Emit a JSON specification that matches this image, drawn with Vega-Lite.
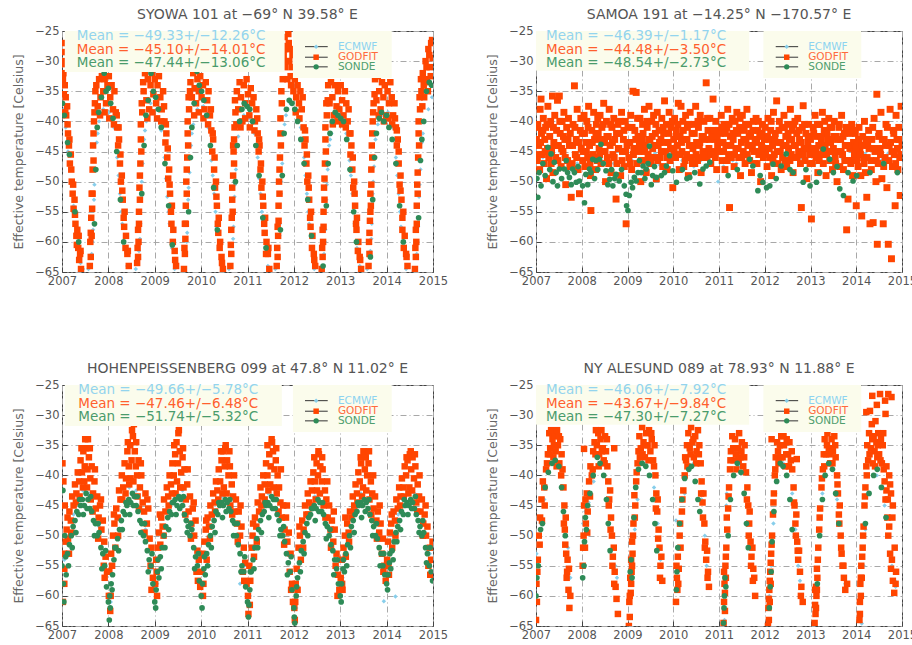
{"$schema":"https://vega.github.io/schema/vega-lite/v6.json","background":"white","padding":{"left":12,"top":7,"right":0,"bottom":0},
"config":{"font":"DejaVu Sans","view":{"stroke":"#444","strokeWidth":1},"title":{"font":"DejaVu Sans","fontSize":14,"fontWeight":"normal","color":"#555","offset":3},"text":{"font":"DejaVu Sans","align":"left","baseline":"middle"},"rect":{"color":"#FBFCEC"},"rule":{"color":"#333","strokeWidth":1},
"axisX":{"values":[2007,2008,2009,2010,2011,2012,2013,2014,2015],"format":"d","title":null,"grid":true,"gridColor":"#a8a8a8","gridDash":[6,3,1,3],"domain":false,"tickSize":-5,"tickColor":"#444","labelPadding":8,"labelColor":"#555","labelFont":"DejaVu Sans","labelFontSize":11.5,"labelOverlap":false,"labelFlush":false},
"axisY":{"values":[-65,-60,-55,-50,-45,-40,-35,-30,-25],"format":"d","titleColor":"#666","titleFont":"DejaVu Sans","titleFontSize":12.5,"titleFontWeight":"normal","titlePadding":9,"grid":true,"gridColor":"#a8a8a8","gridDash":[6,3,1,3],"domain":false,"tickSize":-5,"tickColor":"#444","labelPadding":8,"labelColor":"#555","labelFont":"DejaVu Sans","labelFontSize":11.5,"labelOverlap":false,"labelFlush":false}},
"datasets":{
"p1e":[{"t":2007.00,"v":-36},{"t":2007.04,"v":-38},{"t":2007.08,"v":-41},{"t":2007.13,"v":-45},{"t":2007.19,"v":-50},{"t":2007.25,"v":-54},{"t":2007.30,"v":-57},{"t":2007.35,"v":-61},{"t":2007.40,"v":-63.5},{"t":2007.45,"v":-64.5},
{"t":2007.57,"v":-64.5},{"t":2007.64,"v":-62},{"t":2007.66,"v":-60},{"t":2007.67,"v":-58},{"t":2007.69,"v":-53},{"t":2007.70,"v":-50.5},{"t":2007.72,"v":-48},{"t":2007.75,"v":-43.5},{"t":2007.77,"v":-42},{"t":2007.80,"v":-40},{"t":2007.89,"v":-38},{"t":2008.02,"v":-38.5},{"t":2008.12,"v":-41},{"t":2008.19,"v":-46},{"t":2008.22,"v":-49},{"t":2008.25,"v":-52},{"t":2008.28,"v":-55},{"t":2008.30,"v":-57},{"t":2008.35,"v":-61},{"t":2008.41,"v":-64},
{"t":2008.59,"v":-64.5},{"t":2008.66,"v":-61.5},{"t":2008.68,"v":-59.5},{"t":2008.69,"v":-57},{"t":2008.71,"v":-52},{"t":2008.72,"v":-50},{"t":2008.74,"v":-47},{"t":2008.77,"v":-43},{"t":2008.79,"v":-41.5},{"t":2008.82,"v":-40},{"t":2008.91,"v":-37},{"t":2009.04,"v":-38},{"t":2009.14,"v":-41.5},{"t":2009.21,"v":-46},{"t":2009.24,"v":-49.5},{"t":2009.27,"v":-52.5},{"t":2009.30,"v":-55},{"t":2009.32,"v":-57},{"t":2009.37,"v":-61},{"t":2009.43,"v":-64.5},
{"t":2009.60,"v":-65},{"t":2009.67,"v":-62},{"t":2009.69,"v":-60},{"t":2009.70,"v":-58.5},{"t":2009.72,"v":-53},{"t":2009.73,"v":-51},{"t":2009.75,"v":-48.5},{"t":2009.78,"v":-44},{"t":2009.80,"v":-42},{"t":2009.83,"v":-40.5},{"t":2009.92,"v":-38},{"t":2010.05,"v":-37.5},{"t":2010.15,"v":-41},{"t":2010.22,"v":-46.5},{"t":2010.25,"v":-49},{"t":2010.28,"v":-52},{"t":2010.31,"v":-55},{"t":2010.33,"v":-57.5},{"t":2010.38,"v":-61},{"t":2010.44,"v":-64},
{"t":2010.60,"v":-64.5},{"t":2010.67,"v":-62},{"t":2010.69,"v":-59.5},{"t":2010.70,"v":-57.5},{"t":2010.72,"v":-52.5},{"t":2010.73,"v":-50.5},{"t":2010.75,"v":-48},{"t":2010.78,"v":-44},{"t":2010.80,"v":-42.5},{"t":2010.83,"v":-41},{"t":2010.92,"v":-39},{"t":2011.05,"v":-39.5},{"t":2011.15,"v":-42},{"t":2011.22,"v":-46},{"t":2011.25,"v":-49.5},{"t":2011.28,"v":-52},{"t":2011.31,"v":-55},{"t":2011.33,"v":-56.5},{"t":2011.38,"v":-61},{"t":2011.44,"v":-64},
{"t":2011.60,"v":-64.5},{"t":2011.67,"v":-61},{"t":2011.69,"v":-59},{"t":2011.70,"v":-57},{"t":2011.72,"v":-52},{"t":2011.73,"v":-50},{"t":2011.75,"v":-47},{"t":2011.78,"v":-42},{"t":2011.80,"v":-40.5},{"t":2011.83,"v":-39},{"t":2011.92,"v":-37},{"t":2012.05,"v":-38},{"t":2012.15,"v":-41},{"t":2012.22,"v":-46},{"t":2012.25,"v":-49},{"t":2012.28,"v":-52},{"t":2012.31,"v":-55},{"t":2012.33,"v":-57},{"t":2012.38,"v":-61},{"t":2012.44,"v":-64.5},
{"t":2012.58,"v":-65},{"t":2012.65,"v":-62},{"t":2012.67,"v":-60},{"t":2012.68,"v":-58},{"t":2012.70,"v":-53},{"t":2012.71,"v":-50.5},{"t":2012.73,"v":-48},{"t":2012.76,"v":-44},{"t":2012.78,"v":-43},{"t":2012.81,"v":-42},{"t":2012.90,"v":-40},{"t":2013.03,"v":-40.5},{"t":2013.13,"v":-42},{"t":2013.20,"v":-46.5},{"t":2013.23,"v":-49},{"t":2013.26,"v":-52},{"t":2013.29,"v":-55},{"t":2013.31,"v":-57},{"t":2013.36,"v":-61},{"t":2013.42,"v":-64},
{"t":2013.58,"v":-64.5},{"t":2013.65,"v":-61.5},{"t":2013.67,"v":-59.5},{"t":2013.68,"v":-57},{"t":2013.70,"v":-52},{"t":2013.71,"v":-50},{"t":2013.73,"v":-47.5},{"t":2013.76,"v":-43},{"t":2013.78,"v":-42},{"t":2013.81,"v":-40.5},{"t":2013.90,"v":-39},{"t":2014.03,"v":-38.5},{"t":2014.13,"v":-41},{"t":2014.20,"v":-46},{"t":2014.23,"v":-49},{"t":2014.26,"v":-52},{"t":2014.29,"v":-55},{"t":2014.31,"v":-57.5},{"t":2014.36,"v":-61},{"t":2014.42,"v":-64.5},
{"t":2014.58,"v":-65},{"t":2014.65,"v":-62},{"t":2014.67,"v":-60},{"t":2014.68,"v":-57.5},{"t":2014.70,"v":-52.5},{"t":2014.71,"v":-50.5},{"t":2014.73,"v":-48},{"t":2014.76,"v":-43.5},{"t":2014.78,"v":-42},{"t":2014.81,"v":-40},{"t":2014.90,"v":-38},{"t":2014.98,"v":-36}],
"p1g":[{"t":2007.00,"v":-27},{"t":2007.01,"v":-30},{"t":2007.02,"v":-28.5},{"t":2007.03,"v":-32},{"t":2007.05,"v":-30.5},{"t":2007.06,"v":-34},{"t":2007.08,"v":-36},{"t":2007.09,"v":-39},{"t":2007.11,"v":-37.5},{"t":2007.13,"v":-42},{"t":2007.15,"v":-44},{"t":2007.17,"v":-47},{"t":2007.19,"v":-45.5},{"t":2007.21,"v":-50},{"t":2007.23,"v":-52},{"t":2007.25,"v":-54.5},{"t":2007.27,"v":-53},{"t":2007.29,"v":-57},{"t":2007.31,"v":-59},{"t":2007.33,"v":-58},{"t":2007.35,"v":-61},{"t":2007.37,"v":-63},{"t":2007.39,"v":-62},{"t":2007.41,"v":-64.5},
{"t":2007.02,"v":-33},{"t":2007.04,"v":-35.5},{"t":2007.07,"v":-38.5},{"t":2007.12,"v":-40.5},{"t":2007.16,"v":-43},{"t":2007.20,"v":-48},{"t":2007.24,"v":-50.5},{"t":2007.28,"v":-55.5},{"t":2007.32,"v":-60.5},{"t":2007.36,"v":-59},{"t":2007.40,"v":-61.5},
{"t":2007.60,"v":-64},{"t":2007.61,"v":-60},{"t":2007.62,"v":-62.5},{"t":2007.63,"v":-56},{"t":2007.64,"v":-52},{"t":2007.65,"v":-54.5},{"t":2007.66,"v":-48},{"t":2007.67,"v":-44},{"t":2007.68,"v":-46.5},{"t":2007.69,"v":-40},{"t":2007.71,"v":-37},{"t":2007.74,"v":-34},{"t":2007.77,"v":-37.5},{"t":2007.80,"v":-33},{"t":2007.83,"v":-36},{"t":2007.86,"v":-32.5},{"t":2007.89,"v":-35},{"t":2007.92,"v":-33},{"t":2007.95,"v":-37},{"t":2007.98,"v":-34},{"t":2008.01,"v":-32.5},{"t":2008.04,"v":-36},{"t":2008.07,"v":-34},{"t":2008.10,"v":-38},{"t":2008.13,"v":-35},{"t":2008.16,"v":-38.5},{"t":2008.19,"v":-41},{"t":2008.21,"v":-44},{"t":2008.23,"v":-43},{"t":2008.25,"v":-47},{"t":2008.27,"v":-50},{"t":2008.29,"v":-49},{"t":2008.31,"v":-53},{"t":2008.33,"v":-56},{"t":2008.35,"v":-55},{"t":2008.38,"v":-59},{"t":2008.41,"v":-62},{"t":2008.44,"v":-64},
{"t":2007.62,"v":-58.5},{"t":2007.64,"v":-59},{"t":2007.66,"v":-52},{"t":2007.68,"v":-42},{"t":2007.70,"v":-38.5},{"t":2007.72,"v":-35},{"t":2007.82,"v":-39},{"t":2007.92,"v":-38.5},{"t":2008.02,"v":-39.5},{"t":2008.12,"v":-40.5},{"t":2008.18,"v":-39},{"t":2008.22,"v":-41},{"t":2008.26,"v":-45.5},{"t":2008.30,"v":-51.5},{"t":2008.34,"v":-57.5},{"t":2008.37,"v":-61},{"t":2008.42,"v":-61.5},
{"t":2008.62,"v":-63.5},{"t":2008.63,"v":-61},{"t":2008.64,"v":-58},{"t":2008.65,"v":-60},{"t":2008.66,"v":-55},{"t":2008.67,"v":-51},{"t":2008.68,"v":-53},{"t":2008.69,"v":-47},{"t":2008.70,"v":-43},{"t":2008.71,"v":-45},{"t":2008.73,"v":-38.5},{"t":2008.76,"v":-35},{"t":2008.79,"v":-32},{"t":2008.82,"v":-36.5},{"t":2008.85,"v":-33},{"t":2008.88,"v":-38},{"t":2008.91,"v":-34},{"t":2008.94,"v":-32},{"t":2008.97,"v":-35.5},{"t":2009.00,"v":-33},{"t":2009.03,"v":-37},{"t":2009.06,"v":-34},{"t":2009.09,"v":-32.5},{"t":2009.12,"v":-36},{"t":2009.15,"v":-38},{"t":2009.18,"v":-35},{"t":2009.21,"v":-40},{"t":2009.23,"v":-43.5},{"t":2009.25,"v":-42},{"t":2009.27,"v":-46},{"t":2009.29,"v":-49.5},{"t":2009.31,"v":-48},{"t":2009.33,"v":-52},{"t":2009.35,"v":-55},{"t":2009.37,"v":-54},{"t":2009.40,"v":-58},{"t":2009.43,"v":-61.5},{"t":2009.46,"v":-64},
{"t":2008.64,"v":-62.5},{"t":2008.66,"v":-57},{"t":2008.68,"v":-49},{"t":2008.70,"v":-40.5},{"t":2008.72,"v":-37},{"t":2008.75,"v":-33.5},{"t":2008.84,"v":-39.5},{"t":2008.95,"v":-38.5},{"t":2009.05,"v":-39.5},{"t":2009.14,"v":-40},{"t":2009.20,"v":-37.5},{"t":2009.24,"v":-40.5},{"t":2009.28,"v":-44.5},{"t":2009.32,"v":-50.5},{"t":2009.36,"v":-57},{"t":2009.39,"v":-60},{"t":2009.44,"v":-63},
{"t":2009.63,"v":-64.5},{"t":2009.64,"v":-61},{"t":2009.65,"v":-57},{"t":2009.66,"v":-59.5},{"t":2009.67,"v":-54},{"t":2009.68,"v":-50},{"t":2009.69,"v":-52},{"t":2009.70,"v":-46},{"t":2009.71,"v":-42},{"t":2009.72,"v":-44},{"t":2009.74,"v":-38},{"t":2009.77,"v":-33.5},{"t":2009.80,"v":-36},{"t":2009.83,"v":-32},{"t":2009.86,"v":-34.5},{"t":2009.89,"v":-37},{"t":2009.92,"v":-33},{"t":2009.95,"v":-35},{"t":2009.98,"v":-32.5},{"t":2010.01,"v":-36},{"t":2010.04,"v":-34},{"t":2010.07,"v":-38},{"t":2010.10,"v":-33.5},{"t":2010.13,"v":-36.5},{"t":2010.16,"v":-35},{"t":2010.19,"v":-39},{"t":2010.22,"v":-41.5},{"t":2010.24,"v":-45},{"t":2010.26,"v":-43},{"t":2010.28,"v":-48},{"t":2010.30,"v":-51},{"t":2010.32,"v":-50},{"t":2010.34,"v":-54},{"t":2010.36,"v":-57},{"t":2010.38,"v":-56},{"t":2010.41,"v":-60},{"t":2010.44,"v":-62.5},{"t":2010.47,"v":-64.5},
{"t":2009.65,"v":-62},{"t":2009.67,"v":-57},{"t":2009.69,"v":-48},{"t":2009.71,"v":-40},{"t":2009.73,"v":-36},{"t":2009.76,"v":-35},{"t":2009.85,"v":-39},{"t":2009.95,"v":-38.5},{"t":2010.05,"v":-39.5},{"t":2010.15,"v":-40.5},{"t":2010.21,"v":-38},{"t":2010.25,"v":-42},{"t":2010.29,"v":-46},{"t":2010.33,"v":-52.5},{"t":2010.37,"v":-58.5},{"t":2010.40,"v":-61},{"t":2010.45,"v":-63.5},
{"t":2010.63,"v":-64},{"t":2010.64,"v":-60.5},{"t":2010.65,"v":-62},{"t":2010.66,"v":-56},{"t":2010.67,"v":-53},{"t":2010.68,"v":-55},{"t":2010.69,"v":-49},{"t":2010.70,"v":-45},{"t":2010.71,"v":-47},{"t":2010.72,"v":-41},{"t":2010.74,"v":-38.5},{"t":2010.77,"v":-35},{"t":2010.80,"v":-38},{"t":2010.83,"v":-33.5},{"t":2010.86,"v":-36},{"t":2010.89,"v":-40},{"t":2010.92,"v":-34},{"t":2010.95,"v":-37},{"t":2010.98,"v":-33},{"t":2011.01,"v":-35.5},{"t":2011.04,"v":-39},{"t":2011.07,"v":-34.5},{"t":2011.10,"v":-37},{"t":2011.13,"v":-36},{"t":2011.16,"v":-40},{"t":2011.19,"v":-38},{"t":2011.22,"v":-42},{"t":2011.24,"v":-45},{"t":2011.26,"v":-44},{"t":2011.28,"v":-48},{"t":2011.30,"v":-51},{"t":2011.32,"v":-50},{"t":2011.34,"v":-54},{"t":2011.36,"v":-57},{"t":2011.38,"v":-56},{"t":2011.41,"v":-60},{"t":2011.44,"v":-62},{"t":2011.47,"v":-64.5},
{"t":2010.65,"v":-58},{"t":2010.67,"v":-51},{"t":2010.69,"v":-44},{"t":2010.71,"v":-43},{"t":2010.73,"v":-36.5},{"t":2010.76,"v":-40.5},{"t":2010.85,"v":-41},{"t":2010.95,"v":-39.5},{"t":2011.05,"v":-41},{"t":2011.15,"v":-41.5},{"t":2011.21,"v":-39.5},{"t":2011.25,"v":-43},{"t":2011.29,"v":-47},{"t":2011.33,"v":-52.5},{"t":2011.37,"v":-58.5},{"t":2011.40,"v":-62},{"t":2011.45,"v":-61},
{"t":2011.63,"v":-64},{"t":2011.64,"v":-61},{"t":2011.65,"v":-57.5},{"t":2011.66,"v":-59},{"t":2011.67,"v":-54},{"t":2011.68,"v":-50},{"t":2011.69,"v":-52},{"t":2011.70,"v":-46},{"t":2011.71,"v":-42},{"t":2011.72,"v":-44},{"t":2011.74,"v":-37},{"t":2011.76,"v":-33},{"t":2011.78,"v":-29},{"t":2011.80,"v":-26},{"t":2011.82,"v":-31},{"t":2011.84,"v":-27.5},{"t":2011.86,"v":-33},{"t":2011.88,"v":-25.5},{"t":2011.90,"v":-30},{"t":2011.92,"v":-28},{"t":2011.94,"v":-34},{"t":2011.96,"v":-31},{"t":2011.99,"v":-35},{"t":2012.02,"v":-33},{"t":2012.05,"v":-36},{"t":2012.08,"v":-34},{"t":2012.11,"v":-37},{"t":2012.14,"v":-35},{"t":2012.17,"v":-38},{"t":2012.21,"v":-41},{"t":2012.23,"v":-44},{"t":2012.25,"v":-43},{"t":2012.27,"v":-47},{"t":2012.29,"v":-50},{"t":2012.31,"v":-49},{"t":2012.33,"v":-53},{"t":2012.35,"v":-56},{"t":2012.37,"v":-55},{"t":2012.40,"v":-59},{"t":2012.43,"v":-62},{"t":2012.46,"v":-64},
{"t":2011.65,"v":-62.5},{"t":2011.67,"v":-56.5},{"t":2011.69,"v":-48},{"t":2011.71,"v":-39.5},{"t":2011.73,"v":-35},{"t":2011.77,"v":-30.5},{"t":2011.81,"v":-28},{"t":2011.85,"v":-30},{"t":2011.89,"v":-27},{"t":2011.93,"v":-32.5},{"t":2011.97,"v":-29},{"t":2012.04,"v":-38.5},{"t":2012.12,"v":-39.5},{"t":2012.19,"v":-36},{"t":2012.24,"v":-41.5},{"t":2012.28,"v":-45.5},{"t":2012.32,"v":-51},{"t":2012.36,"v":-57.5},{"t":2012.39,"v":-61},{"t":2012.44,"v":-63},
{"t":2012.60,"v":-64.5},{"t":2012.61,"v":-61},{"t":2012.62,"v":-58},{"t":2012.63,"v":-60},{"t":2012.64,"v":-55},{"t":2012.65,"v":-51},{"t":2012.66,"v":-53},{"t":2012.67,"v":-47},{"t":2012.68,"v":-43},{"t":2012.69,"v":-45},{"t":2012.71,"v":-39},{"t":2012.74,"v":-34},{"t":2012.77,"v":-37},{"t":2012.80,"v":-33.5},{"t":2012.83,"v":-36},{"t":2012.86,"v":-39},{"t":2012.89,"v":-34},{"t":2012.92,"v":-37.5},{"t":2012.95,"v":-35},{"t":2012.98,"v":-38},{"t":2013.01,"v":-34},{"t":2013.04,"v":-36.5},{"t":2013.07,"v":-39},{"t":2013.10,"v":-35},{"t":2013.13,"v":-37},{"t":2013.16,"v":-40},{"t":2013.20,"v":-42},{"t":2013.22,"v":-45.5},{"t":2013.24,"v":-44},{"t":2013.26,"v":-48},{"t":2013.28,"v":-51},{"t":2013.30,"v":-50},{"t":2013.32,"v":-54},{"t":2013.34,"v":-57},{"t":2013.36,"v":-56},{"t":2013.39,"v":-60},{"t":2013.42,"v":-62.5},{"t":2013.45,"v":-64.5},
{"t":2012.62,"v":-62.5},{"t":2012.64,"v":-57.5},{"t":2012.66,"v":-49.5},{"t":2012.68,"v":-41},{"t":2012.70,"v":-37},{"t":2012.73,"v":-36.5},{"t":2012.84,"v":-40.5},{"t":2012.94,"v":-40},{"t":2013.04,"v":-40.5},{"t":2013.12,"v":-41},{"t":2013.18,"v":-38},{"t":2013.22,"v":-42},{"t":2013.27,"v":-46},{"t":2013.31,"v":-52},{"t":2013.35,"v":-58},{"t":2013.38,"v":-61.5},{"t":2013.43,"v":-63},
{"t":2013.61,"v":-64},{"t":2013.62,"v":-60},{"t":2013.63,"v":-62},{"t":2013.64,"v":-56.5},{"t":2013.65,"v":-52},{"t":2013.66,"v":-54},{"t":2013.67,"v":-48},{"t":2013.68,"v":-44},{"t":2013.69,"v":-46},{"t":2013.70,"v":-40},{"t":2013.72,"v":-37},{"t":2013.75,"v":-33},{"t":2013.78,"v":-36.5},{"t":2013.81,"v":-32.5},{"t":2013.84,"v":-35},{"t":2013.87,"v":-38},{"t":2013.90,"v":-33.5},{"t":2013.93,"v":-36},{"t":2013.96,"v":-34},{"t":2013.99,"v":-39},{"t":2014.02,"v":-35},{"t":2014.05,"v":-37},{"t":2014.08,"v":-33.5},{"t":2014.11,"v":-36},{"t":2014.14,"v":-39},{"t":2014.17,"v":-37},{"t":2014.20,"v":-41},{"t":2014.22,"v":-44},{"t":2014.24,"v":-43},{"t":2014.26,"v":-47},{"t":2014.28,"v":-50.5},{"t":2014.30,"v":-49},{"t":2014.32,"v":-53},{"t":2014.34,"v":-56},{"t":2014.36,"v":-55},{"t":2014.39,"v":-59},{"t":2014.42,"v":-62},{"t":2014.45,"v":-64},
{"t":2013.63,"v":-58.5},{"t":2013.65,"v":-55},{"t":2013.67,"v":-50.5},{"t":2013.69,"v":-42},{"t":2013.71,"v":-38.5},{"t":2013.74,"v":-35.5},{"t":2013.83,"v":-39},{"t":2013.94,"v":-40},{"t":2014.04,"v":-39.5},{"t":2014.12,"v":-40.5},{"t":2014.18,"v":-39.5},{"t":2014.22,"v":-41.5},{"t":2014.26,"v":-45},{"t":2014.30,"v":-51.5},{"t":2014.34,"v":-58},{"t":2014.37,"v":-61},{"t":2014.43,"v":-62.5},
{"t":2014.61,"v":-64.5},{"t":2014.62,"v":-61},{"t":2014.63,"v":-58},{"t":2014.64,"v":-60},{"t":2014.65,"v":-54},{"t":2014.66,"v":-50.5},{"t":2014.67,"v":-52},{"t":2014.68,"v":-46},{"t":2014.69,"v":-42},{"t":2014.70,"v":-44},{"t":2014.72,"v":-38},{"t":2014.75,"v":-35},{"t":2014.78,"v":-32},{"t":2014.81,"v":-36},{"t":2014.84,"v":-30},{"t":2014.87,"v":-33.5},{"t":2014.90,"v":-28},{"t":2014.93,"v":-31},{"t":2014.96,"v":-27},{"t":2014.99,"v":-29.5},
{"t":2014.63,"v":-62.5},{"t":2014.65,"v":-57},{"t":2014.67,"v":-48.5},{"t":2014.69,"v":-40},{"t":2014.71,"v":-36},{"t":2014.74,"v":-33},{"t":2014.77,"v":-37.5},{"t":2014.80,"v":-34},{"t":2014.83,"v":-33},{"t":2014.86,"v":-31},{"t":2014.89,"v":-35},{"t":2014.92,"v":-29},{"t":2014.95,"v":-32.5},{"t":2014.98,"v":-26.5}],
"p1s":[{"t":2007.01,"v":-37},{"t":2007.05,"v":-39},{"t":2007.12,"v":-43.5},{"t":2007.16,"v":-45.5},{"t":2007.28,"v":-55},{"t":2007.36,"v":-60},
{"t":2007.70,"v":-57},{"t":2007.73,"v":-48},{"t":2007.76,"v":-41},{"t":2007.79,"v":-38.5},{"t":2007.85,"v":-36},{"t":2007.91,"v":-32},{"t":2007.95,"v":-35},{"t":2008.00,"v":-34.5},{"t":2008.05,"v":-37},{"t":2008.10,"v":-39.5},{"t":2008.18,"v":-45},{"t":2008.26,"v":-53},{"t":2008.33,"v":-60},
{"t":2008.72,"v":-52},{"t":2008.77,"v":-44},{"t":2008.81,"v":-39},{"t":2008.86,"v":-36.5},{"t":2008.92,"v":-32},{"t":2008.97,"v":-35},{"t":2009.02,"v":-36},{"t":2009.08,"v":-38},{"t":2009.14,"v":-41},{"t":2009.22,"v":-47},{"t":2009.30,"v":-54},{"t":2009.38,"v":-60.5},
{"t":2009.73,"v":-55},{"t":2009.77,"v":-46},{"t":2009.80,"v":-41},{"t":2009.85,"v":-37},{"t":2009.91,"v":-31.7},{"t":2009.96,"v":-34},{"t":2010.01,"v":-35},{"t":2010.06,"v":-36.5},{"t":2010.12,"v":-39},{"t":2010.20,"v":-44},{"t":2010.27,"v":-51},{"t":2010.35,"v":-58},
{"t":2010.74,"v":-50},{"t":2010.78,"v":-44},{"t":2010.83,"v":-40},{"t":2010.88,"v":-38},{"t":2010.93,"v":-37},{"t":2010.99,"v":-37.5},{"t":2011.05,"v":-38},{"t":2011.11,"v":-40},{"t":2011.18,"v":-44},{"t":2011.25,"v":-49},{"t":2011.33,"v":-56},{"t":2011.40,"v":-61},
{"t":2011.71,"v":-58},{"t":2011.75,"v":-49},{"t":2011.79,"v":-42},{"t":2011.84,"v":-38},{"t":2011.90,"v":-36.5},{"t":2011.96,"v":-37},{"t":2012.02,"v":-38},{"t":2012.08,"v":-40},{"t":2012.15,"v":-43},{"t":2012.22,"v":-47},{"t":2012.30,"v":-53},{"t":2012.38,"v":-59},
{"t":2012.63,"v":-64},{"t":2012.70,"v":-54},{"t":2012.74,"v":-47},{"t":2012.78,"v":-42},{"t":2012.83,"v":-40},{"t":2012.89,"v":-38.5},{"t":2012.95,"v":-39},{"t":2013.01,"v":-39.5},{"t":2013.07,"v":-40},{"t":2013.14,"v":-43},{"t":2013.21,"v":-48},{"t":2013.29,"v":-55},{"t":2013.35,"v":-60},
{"t":2013.65,"v":-62.5},{"t":2013.70,"v":-53},{"t":2013.74,"v":-46},{"t":2013.78,"v":-42},{"t":2013.84,"v":-39.5},{"t":2013.89,"v":-38.5},{"t":2013.94,"v":-40},{"t":2014.00,"v":-39},{"t":2014.05,"v":-41},{"t":2014.12,"v":-43},{"t":2014.20,"v":-47},{"t":2014.28,"v":-54},{"t":2014.36,"v":-60},
{"t":2014.69,"v":-56},{"t":2014.73,"v":-46.5},{"t":2014.76,"v":-43},{"t":2014.80,"v":-40},{"t":2014.86,"v":-35},{"t":2014.92,"v":-33.5},{"t":2014.97,"v":-34}],
"p2e":[{"t":2007.15,"v":-46},{"t":2007.45,"v":-46.5},{"t":2007.60,"v":-45.8},{"t":2007.90,"v":-47},{"t":2008.30,"v":-46},{"t":2008.50,"v":-46.8},{"t":2008.70,"v":-47},{"t":2008.90,"v":-47.5},{"t":2009.10,"v":-46.5},{"t":2009.45,"v":-45.5},{"t":2009.60,"v":-45.4},{"t":2009.70,"v":-47.2},{"t":2009.90,"v":-46},{"t":2010.20,"v":-46.5},{"t":2010.45,"v":-47.5},{"t":2010.50,"v":-48.5},{"t":2010.60,"v":-46.5},{"t":2010.80,"v":-45.6},{"t":2010.95,"v":-46},{"t":2010.98,"v":-50},{"t":2011.10,"v":-47.5},{"t":2011.30,"v":-46.5},{"t":2011.38,"v":-47},{"t":2011.55,"v":-45.8},{"t":2011.80,"v":-47},{"t":2012.10,"v":-46},{"t":2012.30,"v":-47.2},{"t":2012.45,"v":-46.5},{"t":2012.80,"v":-46},{"t":2013.10,"v":-47},{"t":2013.40,"v":-45.8},{"t":2013.55,"v":-46.8},{"t":2013.70,"v":-46.2},{"t":2014.05,"v":-45.5},{"t":2014.19,"v":-45.4},{"t":2014.40,"v":-44.8},{"t":2014.45,"v":-46.5},{"t":2014.55,"v":-46.5},{"t":2014.70,"v":-45.3},{"t":2014.85,"v":-45.8}],
"p2g":[{"t":2007.01,"v":-43},{"t":2007.03,"v":-46.5},{"t":2007.04,"v":-40.5},{"t":2007.06,"v":-44},{"t":2007.08,"v":-48},{"t":2007.09,"v":-38},{"t":2007.11,"v":-36.3},{"t":2007.12,"v":-42},{"t":2007.14,"v":-45.5},{"t":2007.16,"v":-39.5},{"t":2007.18,"v":-47},{"t":2007.19,"v":-43},{"t":2007.21,"v":-41},{"t":2007.23,"v":-49.5},{"t":2007.25,"v":-44.5},{"t":2007.26,"v":-37.5},{"t":2007.28,"v":-46},{"t":2007.30,"v":-42.5},{"t":2007.32,"v":-40},{"t":2007.34,"v":-45},{"t":2007.36,"v":-35.8},{"t":2007.37,"v":-48.5},{"t":2007.39,"v":-43.5},{"t":2007.41,"v":-39},{"t":2007.43,"v":-46},{"t":2007.45,"v":-41.5},{"t":2007.47,"v":-36.5},{"t":2007.49,"v":-44},{"t":2007.51,"v":-35.8},{"t":2007.53,"v":-42},{"t":2007.55,"v":-47.5},{"t":2007.57,"v":-40},{"t":2007.59,"v":-45},{"t":2007.61,"v":-38.5},{"t":2007.63,"v":-43},{"t":2007.65,"v":-50.5},{"t":2007.67,"v":-41},{"t":2007.69,"v":-46.5},{"t":2007.71,"v":-39.5},{"t":2007.73,"v":-44},{"t":2007.75,"v":-42},{"t":2007.77,"v":-52.6},{"t":2007.79,"v":-47},{"t":2007.81,"v":-40.5},{"t":2007.84,"v":-34.1},{"t":2007.86,"v":-45.5},{"t":2007.88,"v":-43},{"t":2007.90,"v":-38},{"t":2007.92,"v":-48},{"t":2007.95,"v":-52},{"t":2007.97,"v":-41.5},{"t":2007.99,"v":-44.5},
{"t":2008.01,"v":-42},{"t":2008.03,"v":-45},{"t":2008.05,"v":-39},{"t":2008.07,"v":-47.5},{"t":2008.09,"v":-43.5},{"t":2008.11,"v":-40},{"t":2008.13,"v":-46},{"t":2008.15,"v":-37.5},{"t":2008.17,"v":-44},{"t":2008.19,"v":-49},{"t":2008.20,"v":-54.8},{"t":2008.22,"v":-41.5},{"t":2008.24,"v":-45.5},{"t":2008.26,"v":-38.5},{"t":2008.28,"v":-43},{"t":2008.30,"v":-48},{"t":2008.32,"v":-40.5},{"t":2008.34,"v":-46.5},{"t":2008.36,"v":-42},{"t":2008.38,"v":-44.5},{"t":2008.40,"v":-39},{"t":2008.42,"v":-47},{"t":2008.44,"v":-41},{"t":2008.46,"v":-45},{"t":2008.48,"v":-37},{"t":2008.50,"v":-43.5},{"t":2008.52,"v":-50},{"t":2008.54,"v":-40},{"t":2008.56,"v":-46},{"t":2008.58,"v":-42.5},{"t":2008.60,"v":-38},{"t":2008.62,"v":-44},{"t":2008.64,"v":-48.5},{"t":2008.66,"v":-41},{"t":2008.68,"v":-45.5},{"t":2008.70,"v":-39.5},{"t":2008.72,"v":-43},{"t":2008.75,"v":-52.9},{"t":2008.77,"v":-47},{"t":2008.79,"v":-40.5},{"t":2008.81,"v":-44.5},{"t":2008.83,"v":-42},{"t":2008.85,"v":-49},{"t":2008.87,"v":-38.5},{"t":2008.89,"v":-45},{"t":2008.91,"v":-43},{"t":2008.93,"v":-47.5},{"t":2008.95,"v":-40},{"t":2008.97,"v":-57},{"t":2008.99,"v":-44},
{"t":2009.01,"v":-41},{"t":2009.03,"v":-46},{"t":2009.05,"v":-43.5},{"t":2009.07,"v":-39},{"t":2009.09,"v":-48},{"t":2009.12,"v":-35},{"t":2009.14,"v":-44.5},{"t":2009.16,"v":-41.5},{"t":2009.19,"v":-35.2},{"t":2009.21,"v":-47},{"t":2009.23,"v":-42.5},{"t":2009.25,"v":-45},{"t":2009.27,"v":-39.5},{"t":2009.29,"v":-50},{"t":2009.31,"v":-43},{"t":2009.33,"v":-40.5},{"t":2009.35,"v":-46.5},{"t":2009.37,"v":-38},{"t":2009.39,"v":-44},{"t":2009.41,"v":-48.5},{"t":2009.43,"v":-41},{"t":2009.45,"v":-45.5},{"t":2009.47,"v":-37.5},{"t":2009.49,"v":-43},{"t":2009.51,"v":-47},{"t":2009.53,"v":-40},{"t":2009.55,"v":-44.5},{"t":2009.57,"v":-39},{"t":2009.59,"v":-46},{"t":2009.61,"v":-42},{"t":2009.63,"v":-49.5},{"t":2009.65,"v":-38.5},{"t":2009.67,"v":-44},{"t":2009.69,"v":-41.5},{"t":2009.71,"v":-46},{"t":2009.73,"v":-43},{"t":2009.75,"v":-39.5},{"t":2009.77,"v":-47.5},{"t":2009.79,"v":-42},{"t":2009.81,"v":-36.6},{"t":2009.83,"v":-45},{"t":2009.85,"v":-40.5},{"t":2009.87,"v":-48},{"t":2009.89,"v":-43.5},{"t":2009.91,"v":-38.5},{"t":2009.93,"v":-46.5},{"t":2009.95,"v":-41},{"t":2009.97,"v":-44.5},{"t":2009.99,"v":-51},
{"t":2010.01,"v":-43},{"t":2010.03,"v":-39.5},{"t":2010.05,"v":-46},{"t":2010.07,"v":-41.5},{"t":2010.09,"v":-44},{"t":2010.11,"v":-37},{"t":2010.13,"v":-48},{"t":2010.15,"v":-42.5},{"t":2010.17,"v":-37.5},{"t":2010.19,"v":-45},{"t":2010.21,"v":-40},{"t":2010.23,"v":-47.5},{"t":2010.25,"v":-43},{"t":2010.27,"v":-39},{"t":2010.29,"v":-45.5},{"t":2010.31,"v":-41},{"t":2010.33,"v":-49},{"t":2010.35,"v":-44},{"t":2010.37,"v":-38.5},{"t":2010.39,"v":-46},{"t":2010.41,"v":-42},{"t":2010.43,"v":-44.5},{"t":2010.45,"v":-40.5},{"t":2010.47,"v":-47},{"t":2010.49,"v":-37.5},{"t":2010.51,"v":-43.5},{"t":2010.53,"v":-46.5},{"t":2010.55,"v":-41},{"t":2010.57,"v":-44},{"t":2010.59,"v":-39},{"t":2010.61,"v":-48.5},{"t":2010.63,"v":-42.5},{"t":2010.65,"v":-45},{"t":2010.67,"v":-40},{"t":2010.69,"v":-43},{"t":2010.72,"v":-33.6},{"t":2010.74,"v":-46},{"t":2010.76,"v":-41.5},{"t":2010.78,"v":-44.5},{"t":2010.80,"v":-39.5},{"t":2010.82,"v":-47},{"t":2010.84,"v":-42},{"t":2010.87,"v":-36.3},{"t":2010.89,"v":-45},{"t":2010.91,"v":-43},{"t":2010.93,"v":-40},{"t":2010.95,"v":-48},{"t":2010.97,"v":-44},{"t":2010.99,"v":-41.5},
{"t":2011.01,"v":-45},{"t":2011.03,"v":-42},{"t":2011.05,"v":-39},{"t":2011.07,"v":-46.5},{"t":2011.09,"v":-43.5},{"t":2011.11,"v":-40.5},{"t":2011.13,"v":-48},{"t":2011.15,"v":-44},{"t":2011.17,"v":-41},{"t":2011.19,"v":-38},{"t":2011.21,"v":-45.5},{"t":2011.23,"v":-54.3},{"t":2011.25,"v":-42.5},{"t":2011.27,"v":-46},{"t":2011.29,"v":-39.5},{"t":2011.31,"v":-43},{"t":2011.33,"v":-47.5},{"t":2011.35,"v":-40},{"t":2011.37,"v":-44.5},{"t":2011.39,"v":-38.5},{"t":2011.41,"v":-42},{"t":2011.43,"v":-46},{"t":2011.45,"v":-41},{"t":2011.47,"v":-49},{"t":2011.49,"v":-43.5},{"t":2011.51,"v":-39},{"t":2011.53,"v":-45},{"t":2011.55,"v":-41.5},{"t":2011.57,"v":-47},{"t":2011.59,"v":-43},{"t":2011.61,"v":-38},{"t":2011.63,"v":-44},{"t":2011.65,"v":-40.5},{"t":2011.67,"v":-46.5},{"t":2011.69,"v":-42},{"t":2011.71,"v":-48.5},{"t":2011.73,"v":-44.5},{"t":2011.75,"v":-40},{"t":2011.77,"v":-45},{"t":2011.79,"v":-43},{"t":2011.81,"v":-39.5},{"t":2011.83,"v":-47},{"t":2011.85,"v":-41.5},{"t":2011.87,"v":-45.5},{"t":2011.89,"v":-42.5},{"t":2011.91,"v":-50},{"t":2011.93,"v":-44},{"t":2011.95,"v":-40.5},{"t":2011.97,"v":-46},{"t":2011.99,"v":-43},
{"t":2012.01,"v":-41},{"t":2012.03,"v":-44.5},{"t":2012.05,"v":-47.5},{"t":2012.07,"v":-39.5},{"t":2012.09,"v":-43},{"t":2012.11,"v":-46},{"t":2012.13,"v":-41.5},{"t":2012.15,"v":-49},{"t":2012.17,"v":-44},{"t":2012.19,"v":-38.5},{"t":2012.21,"v":-45.5},{"t":2012.23,"v":-42},{"t":2012.26,"v":-36.6},{"t":2012.28,"v":-47},{"t":2012.30,"v":-43.5},{"t":2012.32,"v":-40},{"t":2012.34,"v":-45},{"t":2012.36,"v":-48},{"t":2012.38,"v":-41},{"t":2012.40,"v":-44},{"t":2012.42,"v":-39},{"t":2012.44,"v":-46.5},{"t":2012.46,"v":-42.5},{"t":2012.48,"v":-47.5},{"t":2012.50,"v":-40.5},{"t":2012.52,"v":-44.5},{"t":2012.54,"v":-43},{"t":2012.56,"v":-38},{"t":2012.58,"v":-45.5},{"t":2012.60,"v":-41.5},{"t":2012.62,"v":-48.5},{"t":2012.64,"v":-44},{"t":2012.66,"v":-40},{"t":2012.68,"v":-46},{"t":2012.70,"v":-42},{"t":2012.72,"v":-39.5},{"t":2012.74,"v":-45},{"t":2012.76,"v":-43},{"t":2012.78,"v":-47},{"t":2012.80,"v":-54.3},{"t":2012.82,"v":-41},{"t":2012.84,"v":-37.4},{"t":2012.86,"v":-44.5},{"t":2012.88,"v":-46.5},{"t":2012.90,"v":-42},{"t":2012.92,"v":-49.5},{"t":2012.94,"v":-43.5},{"t":2012.96,"v":-40.5},{"t":2012.98,"v":-45.5},
{"t":2013.00,"v":-43},{"t":2013.02,"v":-56.2},{"t":2013.04,"v":-47},{"t":2013.06,"v":-41},{"t":2013.08,"v":-44.5},{"t":2013.10,"v":-39},{"t":2013.12,"v":-46},{"t":2013.14,"v":-42.5},{"t":2013.16,"v":-48.5},{"t":2013.18,"v":-44},{"t":2013.20,"v":-40.5},{"t":2013.22,"v":-45.5},{"t":2013.24,"v":-43},{"t":2013.26,"v":-38.5},{"t":2013.28,"v":-47},{"t":2013.30,"v":-41.5},{"t":2013.32,"v":-44},{"t":2013.34,"v":-49},{"t":2013.36,"v":-42},{"t":2013.38,"v":-45},{"t":2013.40,"v":-39.5},{"t":2013.42,"v":-46.5},{"t":2013.44,"v":-43.5},{"t":2013.46,"v":-41},{"t":2013.48,"v":-48},{"t":2013.50,"v":-44.5},{"t":2013.52,"v":-40},{"t":2013.54,"v":-46},{"t":2013.56,"v":-42.5},{"t":2013.58,"v":-50},{"t":2013.60,"v":-45},{"t":2013.62,"v":-41},{"t":2013.64,"v":-47.5},{"t":2013.66,"v":-43},{"t":2013.68,"v":-39},{"t":2013.70,"v":-45.5},{"t":2013.72,"v":-48},{"t":2013.74,"v":-42},{"t":2013.76,"v":-44},{"t":2013.79,"v":-58},{"t":2013.80,"v":-46.5},{"t":2013.82,"v":-52.9},{"t":2013.84,"v":-41.5},{"t":2013.86,"v":-44.5},{"t":2013.88,"v":-47},{"t":2013.90,"v":-40.5},{"t":2013.92,"v":-49},{"t":2013.94,"v":-43.5},{"t":2013.96,"v":-45.5},{"t":2013.98,"v":-42},
{"t":2014.00,"v":-54},{"t":2014.02,"v":-44},{"t":2014.04,"v":-47.5},{"t":2014.06,"v":-41},{"t":2014.08,"v":-45},{"t":2014.10,"v":-49},{"t":2014.12,"v":-55.7},{"t":2014.14,"v":-42.5},{"t":2014.16,"v":-46},{"t":2014.18,"v":-40},{"t":2014.20,"v":-48.5},{"t":2014.23,"v":-52.6},{"t":2014.25,"v":-44},{"t":2014.27,"v":-41.5},{"t":2014.30,"v":-57},{"t":2014.32,"v":-46.5},{"t":2014.34,"v":-43},{"t":2014.37,"v":-56.8},{"t":2014.39,"v":-39.5},{"t":2014.41,"v":-45},{"t":2014.43,"v":-50},{"t":2014.45,"v":-35.5},{"t":2014.46,"v":-60.4},{"t":2014.48,"v":-47},{"t":2014.50,"v":-42},{"t":2014.52,"v":-44.5},{"t":2014.54,"v":-38.5},{"t":2014.56,"v":-49.5},{"t":2014.59,"v":-57},{"t":2014.61,"v":-43},{"t":2014.63,"v":-46},{"t":2014.65,"v":-40.5},{"t":2014.67,"v":-51},{"t":2014.70,"v":-60.4},{"t":2014.72,"v":-44},{"t":2014.74,"v":-38},{"t":2014.77,"v":-62.8},{"t":2014.79,"v":-47.5},{"t":2014.81,"v":-41.5},{"t":2014.83,"v":-45.5},{"t":2014.85,"v":-54},{"t":2014.87,"v":-39},{"t":2014.89,"v":-43},{"t":2014.91,"v":-48},{"t":2014.93,"v":-41},{"t":2014.95,"v":-46},{"t":2014.96,"v":-52.3},{"t":2014.98,"v":-37.5},{"t":2015.00,"v":-44},
{"t":2007.02,"v":-41},{"t":2007.07,"v":-45.5},{"t":2007.10,"v":-43.5},{"t":2007.15,"v":-41.5},{"t":2007.20,"v":-45},{"t":2007.24,"v":-40.5},{"t":2007.29,"v":-44.5},{"t":2007.33,"v":-47},{"t":2007.38,"v":-41},{"t":2007.42,"v":-44},{"t":2007.48,"v":-46.5},{"t":2007.52,"v":-40},{"t":2007.56,"v":-44.5},{"t":2007.60,"v":-42.5},{"t":2007.64,"v":-46},{"t":2007.70,"v":-43},{"t":2007.74,"v":-47.5},{"t":2007.80,"v":-44},{"t":2007.85,"v":-41},{"t":2007.89,"v":-46},{"t":2007.93,"v":-43.5},{"t":2007.98,"v":-39.5},
{"t":2008.02,"v":-46.5},{"t":2008.06,"v":-42},{"t":2008.10,"v":-45},{"t":2008.14,"v":-41},{"t":2008.18,"v":-47},{"t":2008.23,"v":-43.5},{"t":2008.27,"v":-46},{"t":2008.31,"v":-42.5},{"t":2008.35,"v":-39.5},{"t":2008.39,"v":-45.5},{"t":2008.43,"v":-43},{"t":2008.47,"v":-40.5},{"t":2008.51,"v":-45},{"t":2008.55,"v":-42.5},{"t":2008.59,"v":-47},{"t":2008.63,"v":-40.5},{"t":2008.67,"v":-43.5},{"t":2008.71,"v":-46},{"t":2008.76,"v":-42},{"t":2008.80,"v":-44.5},{"t":2008.84,"v":-40},{"t":2008.88,"v":-46.5},{"t":2008.92,"v":-41.5},{"t":2008.96,"v":-45},
{"t":2009.02,"v":-43.5},{"t":2009.06,"v":-47},{"t":2009.10,"v":-41},{"t":2009.13,"v":-45.5},{"t":2009.18,"v":-43},{"t":2009.22,"v":-39.5},{"t":2009.26,"v":-44},{"t":2009.30,"v":-46.5},{"t":2009.34,"v":-42},{"t":2009.38,"v":-45},{"t":2009.42,"v":-40},{"t":2009.46,"v":-43},{"t":2009.50,"v":-46},{"t":2009.54,"v":-42.5},{"t":2009.58,"v":-44},{"t":2009.62,"v":-40.5},{"t":2009.66,"v":-46.5},{"t":2009.70,"v":-43.5},{"t":2009.74,"v":-45},{"t":2009.78,"v":-41},{"t":2009.82,"v":-43.5},{"t":2009.86,"v":-46},{"t":2009.90,"v":-42},{"t":2009.94,"v":-44.5},{"t":2009.98,"v":-40},
{"t":2010.02,"v":-45},{"t":2010.06,"v":-42.5},{"t":2010.10,"v":-40.5},{"t":2010.14,"v":-45.5},{"t":2010.18,"v":-43.5},{"t":2010.22,"v":-41.5},{"t":2010.26,"v":-46.5},{"t":2010.30,"v":-43},{"t":2010.34,"v":-40.5},{"t":2010.38,"v":-44},{"t":2010.42,"v":-47},{"t":2010.46,"v":-42},{"t":2010.50,"v":-45.5},{"t":2010.54,"v":-40},{"t":2010.58,"v":-43.5},{"t":2010.62,"v":-46},{"t":2010.66,"v":-42.5},{"t":2010.70,"v":-45.5},{"t":2010.75,"v":-39.5},{"t":2010.79,"v":-43},{"t":2010.83,"v":-45.5},{"t":2010.88,"v":-41.5},{"t":2010.92,"v":-46},{"t":2010.96,"v":-42.5},
{"t":2011.02,"v":-43.5},{"t":2011.06,"v":-41},{"t":2011.10,"v":-45},{"t":2011.14,"v":-42},{"t":2011.18,"v":-46.5},{"t":2011.22,"v":-40.5},{"t":2011.26,"v":-44},{"t":2011.30,"v":-42},{"t":2011.34,"v":-45.5},{"t":2011.38,"v":-41.5},{"t":2011.42,"v":-44.5},{"t":2011.46,"v":-39.5},{"t":2011.50,"v":-46},{"t":2011.54,"v":-43},{"t":2011.58,"v":-40.5},{"t":2011.62,"v":-45.5},{"t":2011.66,"v":-42.5},{"t":2011.70,"v":-44},{"t":2011.74,"v":-41.5},{"t":2011.78,"v":-47},{"t":2011.82,"v":-43.5},{"t":2011.86,"v":-40},{"t":2011.90,"v":-45},{"t":2011.94,"v":-42},{"t":2011.98,"v":-44.5},
{"t":2012.02,"v":-45.5},{"t":2012.06,"v":-42.5},{"t":2012.10,"v":-44.5},{"t":2012.14,"v":-40},{"t":2012.18,"v":-46.5},{"t":2012.22,"v":-43},{"t":2012.27,"v":-45},{"t":2012.31,"v":-41.5},{"t":2012.35,"v":-43.5},{"t":2012.39,"v":-46},{"t":2012.43,"v":-41},{"t":2012.47,"v":-44},{"t":2012.51,"v":-42},{"t":2012.55,"v":-46.5},{"t":2012.59,"v":-43},{"t":2012.63,"v":-40.5},{"t":2012.67,"v":-44},{"t":2012.71,"v":-46},{"t":2012.75,"v":-41.5},{"t":2012.79,"v":-43.5},{"t":2012.83,"v":-45.5},{"t":2012.87,"v":-40.5},{"t":2012.91,"v":-44.5},{"t":2012.95,"v":-42.5},{"t":2012.99,"v":-47},
{"t":2013.03,"v":-44.5},{"t":2013.07,"v":-42},{"t":2013.11,"v":-45},{"t":2013.15,"v":-40.5},{"t":2013.19,"v":-46.5},{"t":2013.23,"v":-42.5},{"t":2013.27,"v":-44.5},{"t":2013.31,"v":-40},{"t":2013.35,"v":-45.5},{"t":2013.39,"v":-43},{"t":2013.43,"v":-41},{"t":2013.47,"v":-45},{"t":2013.51,"v":-42.5},{"t":2013.55,"v":-47},{"t":2013.59,"v":-43},{"t":2013.63,"v":-40.5},{"t":2013.67,"v":-45},{"t":2013.71,"v":-42.5},{"t":2013.75,"v":-46.5},{"t":2013.78,"v":-41},{"t":2013.83,"v":-44},{"t":2013.87,"v":-42},{"t":2013.91,"v":-46.5},{"t":2013.95,"v":-41.5},{"t":2013.99,"v":-44.5},
{"t":2014.01,"v":-46.5},{"t":2014.05,"v":-43},{"t":2014.09,"v":-45.5},{"t":2014.13,"v":-44},{"t":2014.17,"v":-47},{"t":2014.21,"v":-43},{"t":2014.24,"v":-46},{"t":2014.28,"v":-44.5},{"t":2014.33,"v":-48},{"t":2014.36,"v":-41},{"t":2014.40,"v":-44.5},{"t":2014.44,"v":-46.5},{"t":2014.49,"v":-42.5},{"t":2014.53,"v":-45.5},{"t":2014.57,"v":-43},{"t":2014.60,"v":-47.5},{"t":2014.64,"v":-44},{"t":2014.68,"v":-41},{"t":2014.71,"v":-46.5},{"t":2014.75,"v":-43.5},{"t":2014.78,"v":-45},{"t":2014.82,"v":-42},{"t":2014.86,"v":-47},{"t":2014.90,"v":-44.5},{"t":2014.94,"v":-43},{"t":2014.97,"v":-45.5}],
"p2s":[{"t":2007.04,"v":-52.6},{"t":2007.07,"v":-48.5},{"t":2007.11,"v":-50.7},{"t":2007.26,"v":-44.3},{"t":2007.33,"v":-45.4},{"t":2007.40,"v":-46.8},{"t":2007.47,"v":-50.7},{"t":2007.51,"v":-47.9},{"t":2007.62,"v":-47.9},{"t":2007.69,"v":-48.5},{"t":2007.73,"v":-49.3},{"t":2007.80,"v":-47.9},{"t":2007.88,"v":-50.1},{"t":2007.95,"v":-49.9},{"t":2008.02,"v":-50.7},{"t":2008.06,"v":-53.5},{"t":2008.09,"v":-48.8},{"t":2008.17,"v":-47.9},{"t":2008.24,"v":-46.3},{"t":2008.31,"v":-46.5},{"t":2008.39,"v":-46.3},{"t":2008.42,"v":-43.8},{"t":2008.53,"v":-48.2},{"t":2008.61,"v":-49.6},{"t":2008.68,"v":-50.7},{"t":2008.75,"v":-48.8},{"t":2008.82,"v":-49.9},{"t":2008.93,"v":-50.7},{"t":2008.97,"v":-52.1},{"t":2008.98,"v":-54},{"t":2009.01,"v":-54.8},{"t":2009.04,"v":-52.3},{"t":2009.08,"v":-50.1},{"t":2009.15,"v":-49.3},{"t":2009.19,"v":-49.9},{"t":2009.26,"v":-46.5},{"t":2009.34,"v":-47.4},{"t":2009.41,"v":-47.9},{"t":2009.48,"v":-44.1},{"t":2009.55,"v":-49},{"t":2009.63,"v":-49.3},{"t":2009.74,"v":-49},{"t":2009.81,"v":-48.5},{"t":2009.85,"v":-47.4},{"t":2009.92,"v":-45.7},{"t":2009.99,"v":-48.2},{"t":2010.07,"v":-50.1},{"t":2010.36,"v":-49.3},{"t":2010.47,"v":-48.5},{"t":2010.58,"v":-50.4},{"t":2010.65,"v":-47.9},{"t":2010.72,"v":-47.4},{"t":2010.80,"v":-46.8},{"t":2011.67,"v":-46.3},{"t":2011.74,"v":-47.4},{"t":2011.85,"v":-51.5},{"t":2011.96,"v":-50.1},{"t":2012.04,"v":-51},{"t":2012.11,"v":-50.7},{"t":2012.18,"v":-47.1},{"t":2012.36,"v":-47.4},{"t":2012.47,"v":-45.4},{"t":2012.62,"v":-48.5},{"t":2012.84,"v":-50.1},{"t":2012.99,"v":-50.7},{"t":2013.13,"v":-50.1},{"t":2013.28,"v":-44.6},{"t":2013.42,"v":-46.3},{"t":2013.50,"v":-48.5},{"t":2013.64,"v":-51.2},{"t":2013.72,"v":-52.3},{"t":2013.82,"v":-48.5},{"t":2013.93,"v":-49.9},{"t":2014.01,"v":-49},
{"t":2007.02,"v":-49.5},{"t":2007.15,"v":-47},{"t":2007.20,"v":-49},{"t":2007.30,"v":-48},{"t":2007.37,"v":-50},{"t":2007.44,"v":-48.5},{"t":2007.56,"v":-49.5},{"t":2007.66,"v":-46.5},{"t":2007.77,"v":-50.5},{"t":2007.84,"v":-48.5},{"t":2007.92,"v":-47.5},{"t":2008.13,"v":-50.5},{"t":2008.20,"v":-48.5},{"t":2008.28,"v":-49.5},{"t":2008.35,"v":-48},{"t":2008.47,"v":-47},{"t":2008.57,"v":-50.5},{"t":2008.65,"v":-48},{"t":2008.72,"v":-49.5},{"t":2008.87,"v":-48},{"t":2009.11,"v":-51},{"t":2009.23,"v":-48.5},{"t":2009.30,"v":-48.5},{"t":2009.38,"v":-49.5},{"t":2009.45,"v":-47},{"t":2009.52,"v":-50.5},{"t":2009.59,"v":-47.5},{"t":2010.20,"v":-48},{"t":2010.30,"v":-49.5},{"t":2011.20,"v":-49},{"t":2011.40,"v":-48},{"t":2011.90,"v":-49},{"t":2012.25,"v":-49.5},{"t":2012.55,"v":-48},{"t":2012.90,"v":-48},{"t":2013.20,"v":-48.5},{"t":2013.58,"v":-47.5},{"t":2014.30,"v":-48.5},{"t":2014.60,"v":-47},{"t":2014.90,"v":-48.5}],
"p3e":[{"t":2007.05,"v":-54},{"t":2007.25,"v":-46.5},{"t":2007.45,"v":-42.5},{"t":2007.60,"v":-43},{"t":2007.80,"v":-48.5},{"t":2007.93,"v":-55},
{"t":2008.05,"v":-61},{"t":2008.25,"v":-47},{"t":2008.45,"v":-42},{"t":2008.60,"v":-42.5},{"t":2008.80,"v":-49},{"t":2008.93,"v":-55.5},
{"t":2009.05,"v":-58},{"t":2009.25,"v":-46},{"t":2009.45,"v":-43},{"t":2009.60,"v":-42.5},{"t":2009.80,"v":-48},{"t":2009.93,"v":-54.5},
{"t":2010.05,"v":-56},{"t":2010.25,"v":-47},{"t":2010.45,"v":-43.5},{"t":2010.60,"v":-43},{"t":2010.84,"v":-58},{"t":2010.93,"v":-55},
{"t":2011.05,"v":-60},{"t":2011.25,"v":-47.5},{"t":2011.45,"v":-43},{"t":2011.60,"v":-42.5},{"t":2011.80,"v":-49},{"t":2011.93,"v":-56},
{"t":2012.05,"v":-62},{"t":2012.25,"v":-48},{"t":2012.45,"v":-43.5},{"t":2012.60,"v":-43},{"t":2012.80,"v":-49.5},{"t":2012.93,"v":-56.5},
{"t":2013.05,"v":-57},{"t":2013.25,"v":-47},{"t":2013.45,"v":-43},{"t":2013.60,"v":-42.5},{"t":2013.80,"v":-48},{"t":2013.94,"v":-60.9},
{"t":2014.05,"v":-54},{"t":2014.19,"v":-60.1},{"t":2014.25,"v":-46.5},{"t":2014.45,"v":-42.5},{"t":2014.60,"v":-43},{"t":2014.80,"v":-48},{"t":2014.93,"v":-53}],
"p3g":[{"t":2007.01,"v":-38},{"t":2007.02,"v":-61},{"t":2007.03,"v":-41},{"t":2007.04,"v":-53},{"t":2007.05,"v":-55.5},{"t":2007.06,"v":-45},{"t":2007.08,"v":-51},{"t":2007.10,"v":-49},{"t":2007.13,"v":-50.5},{"t":2007.15,"v":-53},{"t":2007.16,"v":-46},{"t":2007.19,"v":-47.5},{"t":2007.22,"v":-43.5},{"t":2007.25,"v":-45},{"t":2007.28,"v":-41.5},{"t":2007.31,"v":-43},{"t":2007.34,"v":-39.5},{"t":2007.37,"v":-41},{"t":2007.40,"v":-37.5},{"t":2007.43,"v":-39.5},{"t":2007.45,"v":-42},{"t":2007.46,"v":-36},{"t":2007.49,"v":-38.5},{"t":2007.52,"v":-35.5},{"t":2007.55,"v":-39},{"t":2007.56,"v":-34},{"t":2007.58,"v":-37},{"t":2007.61,"v":-40.5},{"t":2007.62,"v":-44},{"t":2007.64,"v":-38.5},{"t":2007.67,"v":-43},{"t":2007.70,"v":-41},{"t":2007.73,"v":-45.5},{"t":2007.76,"v":-43.5},{"t":2007.79,"v":-47},{"t":2007.82,"v":-45},{"t":2007.85,"v":-49},{"t":2007.88,"v":-47.5},{"t":2007.90,"v":-55},{"t":2007.91,"v":-51},{"t":2007.94,"v":-53.5},{"t":2007.97,"v":-56},
{"t":2007.05,"v":-58},{"t":2007.12,"v":-47},{"t":2007.20,"v":-49.5},{"t":2007.30,"v":-44.5},{"t":2007.38,"v":-43.5},{"t":2007.42,"v":-35.5},{"t":2007.48,"v":-41},{"t":2007.50,"v":-34},{"t":2007.54,"v":-42},{"t":2007.60,"v":-35.5},{"t":2007.66,"v":-46},{"t":2007.71,"v":-39},{"t":2007.78,"v":-50.5},{"t":2007.84,"v":-44},{"t":2007.92,"v":-57},
{"t":2008.01,"v":-60},{"t":2008.02,"v":-56},{"t":2008.04,"v":-62.5},{"t":2008.06,"v":-53},{"t":2008.08,"v":-55},{"t":2008.10,"v":-50},{"t":2008.13,"v":-48},{"t":2008.15,"v":-52},{"t":2008.17,"v":-45.5},{"t":2008.20,"v":-47},{"t":2008.23,"v":-42.5},{"t":2008.26,"v":-44},{"t":2008.29,"v":-40},{"t":2008.32,"v":-42},{"t":2008.35,"v":-38},{"t":2008.38,"v":-40.5},{"t":2008.41,"v":-36},{"t":2008.44,"v":-38.5},{"t":2008.45,"v":-41.5},{"t":2008.47,"v":-35},{"t":2008.50,"v":-37.5},{"t":2008.53,"v":-33.5},{"t":2008.55,"v":-31.5},{"t":2008.57,"v":-36},{"t":2008.59,"v":-38.5},{"t":2008.62,"v":-40},{"t":2008.63,"v":-43.5},{"t":2008.65,"v":-37.5},{"t":2008.68,"v":-42},{"t":2008.71,"v":-40},{"t":2008.74,"v":-44.5},{"t":2008.77,"v":-46},{"t":2008.80,"v":-43},{"t":2008.83,"v":-48},{"t":2008.86,"v":-45.5},{"t":2008.89,"v":-50.5},{"t":2008.91,"v":-55},{"t":2008.93,"v":-52},{"t":2008.96,"v":-57},
{"t":2008.05,"v":-60},{"t":2008.12,"v":-46.5},{"t":2008.21,"v":-50},{"t":2008.30,"v":-44},{"t":2008.37,"v":-43},{"t":2008.42,"v":-34.5},{"t":2008.48,"v":-40.5},{"t":2008.51,"v":-32.5},{"t":2008.54,"v":-41},{"t":2008.60,"v":-34.5},{"t":2008.66,"v":-45.5},{"t":2008.70,"v":-38},{"t":2008.78,"v":-49.5},{"t":2008.84,"v":-44},{"t":2008.93,"v":-59},
{"t":2009.01,"v":-58},{"t":2009.03,"v":-54},{"t":2009.05,"v":-60},{"t":2009.07,"v":-52},{"t":2009.09,"v":-49.5},{"t":2009.12,"v":-51.5},{"t":2009.14,"v":-47},{"t":2009.17,"v":-48.5},{"t":2009.20,"v":-44},{"t":2009.23,"v":-46},{"t":2009.26,"v":-42},{"t":2009.29,"v":-43.5},{"t":2009.32,"v":-40},{"t":2009.35,"v":-41.5},{"t":2009.38,"v":-38},{"t":2009.41,"v":-40},{"t":2009.44,"v":-36.5},{"t":2009.45,"v":-43},{"t":2009.47,"v":-34.5},{"t":2009.50,"v":-38},{"t":2009.52,"v":-32.5},{"t":2009.54,"v":-36},{"t":2009.57,"v":-39.5},{"t":2009.60,"v":-37},{"t":2009.62,"v":-42},{"t":2009.64,"v":-39},{"t":2009.67,"v":-44},{"t":2009.70,"v":-41.5},{"t":2009.73,"v":-46},{"t":2009.76,"v":-43.5},{"t":2009.79,"v":-48},{"t":2009.82,"v":-45.5},{"t":2009.85,"v":-50},{"t":2009.88,"v":-47.5},{"t":2009.90,"v":-56},{"t":2009.92,"v":-52.5},{"t":2009.95,"v":-54},{"t":2009.98,"v":-58.5},
{"t":2009.04,"v":-56},{"t":2009.11,"v":-46.5},{"t":2009.19,"v":-50},{"t":2009.30,"v":-45},{"t":2009.37,"v":-43},{"t":2009.42,"v":-35},{"t":2009.48,"v":-41},{"t":2009.51,"v":-33},{"t":2009.55,"v":-42},{"t":2009.61,"v":-35.5},{"t":2009.66,"v":-46.5},{"t":2009.71,"v":-39},{"t":2009.78,"v":-50.5},{"t":2009.84,"v":-44.5},{"t":2009.93,"v":-57.5},
{"t":2010.01,"v":-56},{"t":2010.03,"v":-53},{"t":2010.05,"v":-58},{"t":2010.07,"v":-51},{"t":2010.10,"v":-49},{"t":2010.12,"v":-54},{"t":2010.14,"v":-47},{"t":2010.17,"v":-48.5},{"t":2010.20,"v":-45},{"t":2010.23,"v":-46.5},{"t":2010.26,"v":-43},{"t":2010.29,"v":-44.5},{"t":2010.32,"v":-41},{"t":2010.35,"v":-42.5},{"t":2010.38,"v":-39},{"t":2010.41,"v":-41},{"t":2010.44,"v":-37.5},{"t":2010.46,"v":-43},{"t":2010.48,"v":-36},{"t":2010.51,"v":-38.5},{"t":2010.53,"v":-35},{"t":2010.56,"v":-37.5},{"t":2010.59,"v":-40},{"t":2010.62,"v":-38.5},{"t":2010.63,"v":-45},{"t":2010.66,"v":-41.5},{"t":2010.69,"v":-43.5},{"t":2010.72,"v":-46},{"t":2010.75,"v":-44},{"t":2010.78,"v":-48},{"t":2010.81,"v":-46},{"t":2010.84,"v":-50},{"t":2010.87,"v":-48.5},{"t":2010.90,"v":-56},{"t":2010.92,"v":-52},{"t":2010.95,"v":-54.5},{"t":2010.98,"v":-58},
{"t":2010.04,"v":-60},{"t":2010.11,"v":-47.5},{"t":2010.19,"v":-50.5},{"t":2010.30,"v":-46},{"t":2010.37,"v":-44},{"t":2010.43,"v":-36},{"t":2010.49,"v":-42},{"t":2010.52,"v":-35.5},{"t":2010.55,"v":-43},{"t":2010.61,"v":-36},{"t":2010.67,"v":-46.5},{"t":2010.71,"v":-40},{"t":2010.79,"v":-51},{"t":2010.85,"v":-45},{"t":2010.93,"v":-57.5},
{"t":2011.01,"v":-60},{"t":2011.02,"v":-63},{"t":2011.04,"v":-55},{"t":2011.06,"v":-57.5},{"t":2011.09,"v":-52},{"t":2011.11,"v":-50},{"t":2011.14,"v":-53.5},{"t":2011.16,"v":-47},{"t":2011.19,"v":-48.5},{"t":2011.22,"v":-44.5},{"t":2011.25,"v":-46},{"t":2011.28,"v":-42},{"t":2011.31,"v":-43.5},{"t":2011.34,"v":-40},{"t":2011.37,"v":-41.5},{"t":2011.40,"v":-38},{"t":2011.43,"v":-40},{"t":2011.45,"v":-42.5},{"t":2011.47,"v":-36.5},{"t":2011.50,"v":-38.5},{"t":2011.52,"v":-34},{"t":2011.55,"v":-36},{"t":2011.58,"v":-39},{"t":2011.61,"v":-37.5},{"t":2011.63,"v":-43},{"t":2011.65,"v":-40},{"t":2011.68,"v":-42},{"t":2011.71,"v":-44.5},{"t":2011.74,"v":-47},{"t":2011.77,"v":-45},{"t":2011.80,"v":-49},{"t":2011.83,"v":-47},{"t":2011.86,"v":-51},{"t":2011.89,"v":-49.5},{"t":2011.91,"v":-56},{"t":2011.93,"v":-53},{"t":2011.96,"v":-58},{"t":2011.98,"v":-61},
{"t":2011.05,"v":-61.5},{"t":2011.12,"v":-48},{"t":2011.20,"v":-51},{"t":2011.30,"v":-45},{"t":2011.37,"v":-44},{"t":2011.43,"v":-35},{"t":2011.49,"v":-41.5},{"t":2011.53,"v":-34.5},{"t":2011.56,"v":-42},{"t":2011.62,"v":-35.5},{"t":2011.67,"v":-46},{"t":2011.72,"v":-39},{"t":2011.79,"v":-51.5},{"t":2011.85,"v":-45},{"t":2011.94,"v":-59},
{"t":2012.01,"v":-62},{"t":2012.02,"v":-64},{"t":2012.04,"v":-58},{"t":2012.06,"v":-55.5},{"t":2012.08,"v":-59},{"t":2012.10,"v":-52},{"t":2012.13,"v":-50},{"t":2012.15,"v":-54},{"t":2012.18,"v":-47.5},{"t":2012.21,"v":-49},{"t":2012.24,"v":-45},{"t":2012.27,"v":-46.5},{"t":2012.30,"v":-43},{"t":2012.33,"v":-44.5},{"t":2012.36,"v":-41},{"t":2012.39,"v":-42.5},{"t":2012.42,"v":-39.5},{"t":2012.45,"v":-41},{"t":2012.47,"v":-44},{"t":2012.49,"v":-38},{"t":2012.52,"v":-40},{"t":2012.54,"v":-36.5},{"t":2012.57,"v":-38.5},{"t":2012.60,"v":-41},{"t":2012.62,"v":-39},{"t":2012.64,"v":-45},{"t":2012.67,"v":-42.5},{"t":2012.70,"v":-44},{"t":2012.73,"v":-47},{"t":2012.76,"v":-45},{"t":2012.79,"v":-49},{"t":2012.82,"v":-47.5},{"t":2012.85,"v":-51},{"t":2012.88,"v":-49},{"t":2012.90,"v":-55},{"t":2012.92,"v":-53},{"t":2012.95,"v":-56.5},{"t":2012.98,"v":-59},
{"t":2012.03,"v":-61},{"t":2012.12,"v":-48.5},{"t":2012.20,"v":-52},{"t":2012.31,"v":-46.5},{"t":2012.38,"v":-45},{"t":2012.44,"v":-37},{"t":2012.50,"v":-42.5},{"t":2012.53,"v":-36},{"t":2012.56,"v":-43},{"t":2012.61,"v":-37},{"t":2012.68,"v":-47},{"t":2012.72,"v":-41},{"t":2012.80,"v":-52},{"t":2012.86,"v":-46},{"t":2012.94,"v":-60},
{"t":2013.01,"v":-57},{"t":2013.03,"v":-54},{"t":2013.05,"v":-59},{"t":2013.07,"v":-52},{"t":2013.10,"v":-50},{"t":2013.12,"v":-53.5},{"t":2013.15,"v":-48},{"t":2013.18,"v":-49.5},{"t":2013.21,"v":-46},{"t":2013.24,"v":-47},{"t":2013.27,"v":-43.5},{"t":2013.30,"v":-45},{"t":2013.33,"v":-41.5},{"t":2013.36,"v":-43},{"t":2013.39,"v":-39.5},{"t":2013.42,"v":-41},{"t":2013.45,"v":-38},{"t":2013.47,"v":-43.5},{"t":2013.50,"v":-36},{"t":2013.53,"v":-39},{"t":2013.55,"v":-37},{"t":2013.58,"v":-40},{"t":2013.61,"v":-38},{"t":2013.63,"v":-44},{"t":2013.66,"v":-41},{"t":2013.69,"v":-43},{"t":2013.72,"v":-45.5},{"t":2013.75,"v":-43.5},{"t":2013.78,"v":-47.5},{"t":2013.81,"v":-46},{"t":2013.84,"v":-49.5},{"t":2013.87,"v":-48},{"t":2013.90,"v":-53},{"t":2013.92,"v":-50.5},{"t":2013.95,"v":-55},{"t":2013.98,"v":-57.5},
{"t":2013.04,"v":-58},{"t":2013.11,"v":-47},{"t":2013.19,"v":-51},{"t":2013.30,"v":-46},{"t":2013.37,"v":-44.5},{"t":2013.44,"v":-37},{"t":2013.49,"v":-42},{"t":2013.52,"v":-36.5},{"t":2013.56,"v":-42.5},{"t":2013.62,"v":-36},{"t":2013.67,"v":-46.5},{"t":2013.71,"v":-40},{"t":2013.79,"v":-50.5},{"t":2013.85,"v":-45},{"t":2013.93,"v":-56},
{"t":2014.01,"v":-54},{"t":2014.03,"v":-51},{"t":2014.05,"v":-56.5},{"t":2014.07,"v":-49.5},{"t":2014.10,"v":-48},{"t":2014.12,"v":-52},{"t":2014.15,"v":-46},{"t":2014.18,"v":-47.5},{"t":2014.21,"v":-44},{"t":2014.24,"v":-45.5},{"t":2014.27,"v":-42},{"t":2014.30,"v":-43.5},{"t":2014.33,"v":-40.5},{"t":2014.36,"v":-42},{"t":2014.39,"v":-38.5},{"t":2014.42,"v":-40},{"t":2014.45,"v":-37.5},{"t":2014.47,"v":-43},{"t":2014.50,"v":-36.5},{"t":2014.53,"v":-39},{"t":2014.56,"v":-37},{"t":2014.59,"v":-40.5},{"t":2014.62,"v":-38.5},{"t":2014.64,"v":-44.5},{"t":2014.67,"v":-41.5},{"t":2014.70,"v":-43.5},{"t":2014.73,"v":-46},{"t":2014.76,"v":-44},{"t":2014.79,"v":-48},{"t":2014.82,"v":-46.5},{"t":2014.85,"v":-50},{"t":2014.88,"v":-48.5},{"t":2014.90,"v":-55},{"t":2014.93,"v":-52},{"t":2014.96,"v":-54},{"t":2014.99,"v":-51},
{"t":2014.04,"v":-55},{"t":2014.11,"v":-46.5},{"t":2014.19,"v":-50},{"t":2014.29,"v":-45},{"t":2014.37,"v":-43.5},{"t":2014.43,"v":-37},{"t":2014.49,"v":-42},{"t":2014.52,"v":-36},{"t":2014.55,"v":-42.5},{"t":2014.61,"v":-36.5},{"t":2014.66,"v":-46},{"t":2014.71,"v":-40},{"t":2014.78,"v":-50},{"t":2014.84,"v":-45},{"t":2014.94,"v":-56.5}],
"p3s":[{"t":2007.00,"v":-55},{"t":2007.02,"v":-42.5},{"t":2007.03,"v":-58},{"t":2007.06,"v":-50},{"t":2007.09,"v":-56.5},{"t":2007.12,"v":-53},{"t":2007.16,"v":-51.5},{"t":2007.20,"v":-50},{"t":2007.24,"v":-48.5},{"t":2007.28,"v":-47.5},{"t":2007.32,"v":-46},{"t":2007.36,"v":-46.5},{"t":2007.40,"v":-45},{"t":2007.44,"v":-44},{"t":2007.48,"v":-45},{"t":2007.52,"v":-43},{"t":2007.56,"v":-44},{"t":2007.60,"v":-45.5},{"t":2007.64,"v":-46},{"t":2007.68,"v":-47.5},{"t":2007.72,"v":-48},{"t":2007.76,"v":-50},{"t":2007.80,"v":-49.5},{"t":2007.84,"v":-52},{"t":2007.88,"v":-53},{"t":2007.92,"v":-55},{"t":2007.96,"v":-58.5},
{"t":2007.04,"v":-61},{"t":2007.08,"v":-53.5},{"t":2007.14,"v":-55},{"t":2007.22,"v":-52},{"t":2007.30,"v":-49.5},{"t":2007.38,"v":-44},{"t":2007.46,"v":-46.5},{"t":2007.54,"v":-45.5},{"t":2007.62,"v":-43.5},{"t":2007.70,"v":-50},{"t":2007.78,"v":-48},{"t":2007.86,"v":-55.5},{"t":2007.94,"v":-52.5},
{"t":2008.00,"v":-61},{"t":2008.02,"v":-64},{"t":2008.04,"v":-62},{"t":2008.06,"v":-58},{"t":2008.09,"v":-56.5},{"t":2008.12,"v":-54},{"t":2008.16,"v":-52},{"t":2008.20,"v":-50.5},{"t":2008.24,"v":-49},{"t":2008.28,"v":-47.5},{"t":2008.32,"v":-46},{"t":2008.36,"v":-46.5},{"t":2008.40,"v":-45},{"t":2008.44,"v":-44},{"t":2008.48,"v":-44.5},{"t":2008.52,"v":-43},{"t":2008.56,"v":-43.5},{"t":2008.60,"v":-45},{"t":2008.64,"v":-46},{"t":2008.68,"v":-47.5},{"t":2008.72,"v":-48},{"t":2008.76,"v":-50},{"t":2008.80,"v":-51},{"t":2008.84,"v":-52.5},{"t":2008.88,"v":-54},{"t":2008.92,"v":-55},{"t":2008.96,"v":-58},
{"t":2008.03,"v":-60},{"t":2008.08,"v":-59},{"t":2008.14,"v":-52},{"t":2008.22,"v":-52.5},{"t":2008.30,"v":-49},{"t":2008.38,"v":-44.5},{"t":2008.46,"v":-46.5},{"t":2008.54,"v":-45},{"t":2008.62,"v":-43.5},{"t":2008.70,"v":-49.5},{"t":2008.78,"v":-48},{"t":2008.86,"v":-56},{"t":2008.94,"v":-53},
{"t":2009.00,"v":-61},{"t":2009.03,"v":-59},{"t":2009.06,"v":-56},{"t":2009.09,"v":-57},{"t":2009.12,"v":-53.5},{"t":2009.16,"v":-52},{"t":2009.20,"v":-50},{"t":2009.24,"v":-48.5},{"t":2009.28,"v":-47},{"t":2009.32,"v":-46},{"t":2009.36,"v":-46.5},{"t":2009.40,"v":-44.5},{"t":2009.44,"v":-44},{"t":2009.48,"v":-45},{"t":2009.52,"v":-43.5},{"t":2009.56,"v":-44},{"t":2009.60,"v":-45},{"t":2009.64,"v":-46.5},{"t":2009.68,"v":-47.5},{"t":2009.72,"v":-48.5},{"t":2009.76,"v":-50},{"t":2009.80,"v":-49},{"t":2009.84,"v":-52},{"t":2009.88,"v":-53.5},{"t":2009.92,"v":-55},{"t":2009.96,"v":-57.5},
{"t":2009.02,"v":-62},{"t":2009.07,"v":-54},{"t":2009.14,"v":-55.5},{"t":2009.22,"v":-52},{"t":2009.30,"v":-49},{"t":2009.38,"v":-44.5},{"t":2009.46,"v":-46.5},{"t":2009.54,"v":-45.5},{"t":2009.62,"v":-43.5},{"t":2009.70,"v":-49.5},{"t":2009.78,"v":-48},{"t":2009.86,"v":-55.5},{"t":2009.94,"v":-53},
{"t":2010.00,"v":-60},{"t":2010.03,"v":-58},{"t":2010.06,"v":-55.5},{"t":2010.09,"v":-56.5},{"t":2010.12,"v":-53},{"t":2010.16,"v":-51.5},{"t":2010.20,"v":-50},{"t":2010.24,"v":-48.5},{"t":2010.28,"v":-47.5},{"t":2010.32,"v":-46},{"t":2010.36,"v":-46.5},{"t":2010.40,"v":-45},{"t":2010.44,"v":-44.5},{"t":2010.48,"v":-45},{"t":2010.52,"v":-44},{"t":2010.56,"v":-44.5},{"t":2010.60,"v":-45.5},{"t":2010.64,"v":-46},{"t":2010.68,"v":-47.5},{"t":2010.72,"v":-48},{"t":2010.76,"v":-50},{"t":2010.80,"v":-51.5},{"t":2010.84,"v":-53},{"t":2010.88,"v":-55},{"t":2010.92,"v":-56},{"t":2010.96,"v":-58.5},
{"t":2010.02,"v":-62},{"t":2010.07,"v":-53.5},{"t":2010.14,"v":-55},{"t":2010.22,"v":-52},{"t":2010.30,"v":-49.5},{"t":2010.38,"v":-44.5},{"t":2010.46,"v":-47},{"t":2010.54,"v":-46},{"t":2010.62,"v":-44},{"t":2010.70,"v":-50},{"t":2010.78,"v":-48},{"t":2010.86,"v":-56},{"t":2010.94,"v":-53.5},
{"t":2011.00,"v":-61},{"t":2011.02,"v":-63.5},{"t":2011.05,"v":-59},{"t":2011.08,"v":-56},{"t":2011.12,"v":-54},{"t":2011.16,"v":-52},{"t":2011.20,"v":-50.5},{"t":2011.24,"v":-49},{"t":2011.28,"v":-47.5},{"t":2011.32,"v":-46.5},{"t":2011.36,"v":-46},{"t":2011.40,"v":-45},{"t":2011.44,"v":-44.5},{"t":2011.48,"v":-45},{"t":2011.52,"v":-43.5},{"t":2011.56,"v":-44},{"t":2011.60,"v":-45.5},{"t":2011.64,"v":-46.5},{"t":2011.68,"v":-47.5},{"t":2011.72,"v":-49},{"t":2011.76,"v":-50},{"t":2011.80,"v":-51},{"t":2011.84,"v":-53},{"t":2011.88,"v":-54.5},{"t":2011.92,"v":-56},{"t":2011.96,"v":-59},
{"t":2011.03,"v":-61.5},{"t":2011.06,"v":-56},{"t":2011.14,"v":-55.5},{"t":2011.22,"v":-52},{"t":2011.30,"v":-49.5},{"t":2011.38,"v":-44.5},{"t":2011.46,"v":-47},{"t":2011.54,"v":-45.5},{"t":2011.62,"v":-44},{"t":2011.70,"v":-50},{"t":2011.78,"v":-48.5},{"t":2011.86,"v":-56.5},{"t":2011.94,"v":-53.5},
{"t":2012.00,"v":-62},{"t":2012.02,"v":-64.5},{"t":2012.05,"v":-60},{"t":2012.08,"v":-57},{"t":2012.12,"v":-54.5},{"t":2012.16,"v":-52.5},{"t":2012.20,"v":-51},{"t":2012.24,"v":-49.5},{"t":2012.28,"v":-48},{"t":2012.32,"v":-47},{"t":2012.36,"v":-46.5},{"t":2012.40,"v":-45.5},{"t":2012.44,"v":-45},{"t":2012.48,"v":-45.5},{"t":2012.52,"v":-44},{"t":2012.56,"v":-44.5},{"t":2012.60,"v":-46},{"t":2012.64,"v":-46.5},{"t":2012.68,"v":-48},{"t":2012.72,"v":-48.5},{"t":2012.76,"v":-50},{"t":2012.80,"v":-51.5},{"t":2012.84,"v":-52.5},{"t":2012.88,"v":-54},{"t":2012.92,"v":-55.5},{"t":2012.96,"v":-58},
{"t":2012.01,"v":-63.5},{"t":2012.06,"v":-58.5},{"t":2012.14,"v":-56},{"t":2012.22,"v":-53},{"t":2012.30,"v":-50},{"t":2012.38,"v":-45.5},{"t":2012.46,"v":-47.5},{"t":2012.54,"v":-46},{"t":2012.62,"v":-44.5},{"t":2012.70,"v":-50.5},{"t":2012.78,"v":-49},{"t":2012.86,"v":-56.5},{"t":2012.94,"v":-54},
{"t":2013.00,"v":-60},{"t":2013.03,"v":-58},{"t":2013.06,"v":-55.5},{"t":2013.09,"v":-56},{"t":2013.12,"v":-53},{"t":2013.16,"v":-51.5},{"t":2013.20,"v":-50},{"t":2013.24,"v":-48.5},{"t":2013.28,"v":-47.5},{"t":2013.32,"v":-46.5},{"t":2013.36,"v":-46},{"t":2013.40,"v":-45},{"t":2013.44,"v":-44.5},{"t":2013.48,"v":-45},{"t":2013.52,"v":-44},{"t":2013.56,"v":-44.5},{"t":2013.60,"v":-45.5},{"t":2013.64,"v":-46.5},{"t":2013.68,"v":-47.5},{"t":2013.72,"v":-48.5},{"t":2013.76,"v":-50},{"t":2013.80,"v":-50.5},{"t":2013.84,"v":-52},{"t":2013.88,"v":-53},{"t":2013.92,"v":-55},{"t":2013.96,"v":-56.5},
{"t":2013.02,"v":-61},{"t":2013.07,"v":-54},{"t":2013.14,"v":-55},{"t":2013.22,"v":-52},{"t":2013.30,"v":-49.5},{"t":2013.38,"v":-44.5},{"t":2013.46,"v":-47},{"t":2013.54,"v":-46},{"t":2013.62,"v":-44},{"t":2013.70,"v":-50},{"t":2013.78,"v":-48},{"t":2013.86,"v":-55},{"t":2013.94,"v":-53},
{"t":2014.00,"v":-58},{"t":2014.03,"v":-56.5},{"t":2014.06,"v":-54.5},{"t":2014.09,"v":-55.5},{"t":2014.12,"v":-52.5},{"t":2014.16,"v":-51},{"t":2014.20,"v":-49.5},{"t":2014.24,"v":-48.5},{"t":2014.28,"v":-47.5},{"t":2014.32,"v":-46},{"t":2014.36,"v":-46.5},{"t":2014.40,"v":-45},{"t":2014.44,"v":-44.5},{"t":2014.48,"v":-45},{"t":2014.52,"v":-44},{"t":2014.56,"v":-44.5},{"t":2014.60,"v":-45.5},{"t":2014.64,"v":-46.5},{"t":2014.68,"v":-47.5},{"t":2014.72,"v":-48.5},{"t":2014.76,"v":-50},{"t":2014.80,"v":-49.5},{"t":2014.84,"v":-52},{"t":2014.88,"v":-53},{"t":2014.92,"v":-55},{"t":2014.96,"v":-56},{"t":2014.99,"v":-57.5},
{"t":2014.02,"v":-59},{"t":2014.07,"v":-53},{"t":2014.14,"v":-54},{"t":2014.22,"v":-51},{"t":2014.30,"v":-49},{"t":2014.38,"v":-44},{"t":2014.46,"v":-46.5},{"t":2014.54,"v":-45.5},{"t":2014.62,"v":-43.5},{"t":2014.70,"v":-49.5},{"t":2014.78,"v":-47.5},{"t":2014.86,"v":-54.5},{"t":2014.94,"v":-52}],
"p4e":[{"t":2007.01,"v":-53},{"t":2007.03,"v":-55},{"t":2007.08,"v":-50},{"t":2007.18,"v":-44},{"t":2007.35,"v":-38},{"t":2007.50,"v":-38.5},{"t":2007.62,"v":-45},{"t":2007.70,"v":-52},{"t":2007.75,"v":-57},
{"t":2008.03,"v":-48},{"t":2008.08,"v":-46},{"t":2008.15,"v":-44.5},{"t":2008.26,"v":-41},{"t":2008.45,"v":-37.5},{"t":2008.60,"v":-44},{"t":2008.68,"v":-50},{"t":2008.73,"v":-55},{"t":2008.77,"v":-57},
{"t":2009.06,"v":-60},{"t":2009.10,"v":-55},{"t":2009.16,"v":-49},{"t":2009.22,"v":-44},{"t":2009.40,"v":-38},{"t":2009.58,"v":-42},{"t":2009.66,"v":-48},{"t":2009.72,"v":-54},{"t":2009.75,"v":-57.7},
{"t":2010.06,"v":-47.5},{"t":2010.10,"v":-56},{"t":2010.17,"v":-50},{"t":2010.25,"v":-43},{"t":2010.45,"v":-38},{"t":2010.62,"v":-44},{"t":2010.69,"v":-50},{"t":2010.73,"v":-55},
{"t":2011.12,"v":-64},{"t":2011.15,"v":-49},{"t":2011.16,"v":-45},{"t":2011.17,"v":-43},{"t":2011.22,"v":-42},{"t":2011.45,"v":-38.5},{"t":2011.62,"v":-45},{"t":2011.70,"v":-52},{"t":2011.76,"v":-55.5},
{"t":2012.10,"v":-60},{"t":2012.14,"v":-55},{"t":2012.19,"v":-48},{"t":2012.23,"v":-43},{"t":2012.40,"v":-38},{"t":2012.60,"v":-43},{"t":2012.67,"v":-49},{"t":2012.73,"v":-55},{"t":2012.77,"v":-57.5},
{"t":2013.12,"v":-62},{"t":2013.15,"v":-57},{"t":2013.20,"v":-50},{"t":2013.26,"v":-43},{"t":2013.45,"v":-38},{"t":2013.58,"v":-44},{"t":2013.65,"v":-50},{"t":2013.72,"v":-55},{"t":2013.76,"v":-58},
{"t":2014.10,"v":-63.5},{"t":2014.12,"v":-64.6},{"t":2014.16,"v":-55},{"t":2014.20,"v":-49},{"t":2014.25,"v":-43},{"t":2014.45,"v":-40},{"t":2014.62,"v":-45},{"t":2014.70,"v":-50},{"t":2014.78,"v":-55},{"t":2014.84,"v":-57.5},{"t":2014.86,"v":-58.5}],
"p4g":[{"t":2007.00,"v":-64},{"t":2007.01,"v":-58},{"t":2007.02,"v":-61},{"t":2007.04,"v":-54},{"t":2007.06,"v":-50},{"t":2007.09,"v":-47},{"t":2007.12,"v":-44},{"t":2007.15,"v":-41},{"t":2007.19,"v":-45},{"t":2007.22,"v":-39},{"t":2007.26,"v":-36.5},{"t":2007.29,"v":-33},{"t":2007.31,"v":-35.5},{"t":2007.33,"v":-32.5},{"t":2007.36,"v":-34},{"t":2007.38,"v":-37},{"t":2007.41,"v":-33.5},{"t":2007.43,"v":-36},{"t":2007.46,"v":-32.5},{"t":2007.48,"v":-35},{"t":2007.51,"v":-38},{"t":2007.53,"v":-34},{"t":2007.56,"v":-36.5},{"t":2007.58,"v":-39},{"t":2007.60,"v":-42},{"t":2007.62,"v":-45},{"t":2007.63,"v":-49},{"t":2007.65,"v":-47},{"t":2007.66,"v":-53},{"t":2007.68,"v":-56},{"t":2007.69,"v":-54},{"t":2007.71,"v":-59},{"t":2007.73,"v":-62},{"t":2007.75,"v":-60},
{"t":2007.03,"v":-56},{"t":2007.08,"v":-51.5},{"t":2007.13,"v":-47.5},{"t":2007.18,"v":-42},{"t":2007.24,"v":-38},{"t":2007.30,"v":-36.5},{"t":2007.39,"v":-35},{"t":2007.45,"v":-38.5},{"t":2007.50,"v":-33.5},{"t":2007.55,"v":-40},{"t":2007.61,"v":-48},{"t":2007.64,"v":-51.5},{"t":2007.67,"v":-57},{"t":2007.72,"v":-55.5},
{"t":2008.05,"v":-35.6},{"t":2008.71,"v":-35.5},{"t":2008.02,"v":-55},{"t":2008.04,"v":-50},{"t":2008.05,"v":-45},{"t":2008.07,"v":-52},{"t":2008.09,"v":-48},{"t":2008.11,"v":-43},{"t":2008.13,"v":-46},{"t":2008.16,"v":-41},{"t":2008.19,"v":-38.5},{"t":2008.22,"v":-40},{"t":2008.25,"v":-36},{"t":2008.28,"v":-34.5},{"t":2008.31,"v":-32.5},{"t":2008.33,"v":-35},{"t":2008.36,"v":-33},{"t":2008.38,"v":-36.5},{"t":2008.41,"v":-34},{"t":2008.43,"v":-32.5},{"t":2008.46,"v":-35.5},{"t":2008.48,"v":-37.5},{"t":2008.51,"v":-33.5},{"t":2008.53,"v":-36},{"t":2008.56,"v":-38.5},{"t":2008.58,"v":-41},{"t":2008.60,"v":-44},{"t":2008.62,"v":-42.5},{"t":2008.64,"v":-47},{"t":2008.66,"v":-50},{"t":2008.68,"v":-53.5},{"t":2008.70,"v":-52},{"t":2008.72,"v":-56},{"t":2008.74,"v":-58.5},{"t":2008.76,"v":-60.5},{"t":2008.79,"v":-63},
{"t":2008.03,"v":-52},{"t":2008.08,"v":-44},{"t":2008.12,"v":-49.5},{"t":2008.18,"v":-43.5},{"t":2008.24,"v":-39},{"t":2008.30,"v":-36.5},{"t":2008.37,"v":-38.5},{"t":2008.44,"v":-36},{"t":2008.50,"v":-38},{"t":2008.55,"v":-34},{"t":2008.59,"v":-45},{"t":2008.63,"v":-49},{"t":2008.67,"v":-55},{"t":2008.71,"v":-58},
{"t":2009.03,"v":-65},{"t":2009.04,"v":-61},{"t":2009.05,"v":-63.5},{"t":2009.06,"v":-57},{"t":2009.07,"v":-59.5},{"t":2009.08,"v":-54},{"t":2009.09,"v":-56},{"t":2009.10,"v":-51},{"t":2009.11,"v":-53},{"t":2009.13,"v":-48},{"t":2009.15,"v":-43.3},{"t":2009.17,"v":-45},{"t":2009.19,"v":-41},{"t":2009.22,"v":-38},{"t":2009.24,"v":-36},{"t":2009.26,"v":-33.5},{"t":2009.29,"v":-35.5},{"t":2009.32,"v":-32},{"t":2009.35,"v":-34.5},{"t":2009.38,"v":-37},{"t":2009.41,"v":-33},{"t":2009.44,"v":-35},{"t":2009.47,"v":-32.5},{"t":2009.50,"v":-36},{"t":2009.53,"v":-34},{"t":2009.56,"v":-37.5},{"t":2009.59,"v":-35},{"t":2009.61,"v":-40},{"t":2009.63,"v":-43},{"t":2009.65,"v":-46},{"t":2009.66,"v":-44},{"t":2009.68,"v":-49},{"t":2009.70,"v":-52},{"t":2009.72,"v":-55},{"t":2009.74,"v":-53.5},{"t":2009.76,"v":-57.5},
{"t":2009.05,"v":-60},{"t":2009.08,"v":-58},{"t":2009.10,"v":-55},{"t":2009.12,"v":-50},{"t":2009.16,"v":-47},{"t":2009.20,"v":-39.5},{"t":2009.27,"v":-37},{"t":2009.33,"v":-36.5},{"t":2009.40,"v":-35},{"t":2009.46,"v":-37.5},{"t":2009.52,"v":-33},{"t":2009.58,"v":-38.5},{"t":2009.62,"v":-45.5},{"t":2009.67,"v":-50.5},{"t":2009.71,"v":-57},
{"t":2010.06,"v":-61},{"t":2010.08,"v":-57},{"t":2010.09,"v":-59},{"t":2010.10,"v":-53.5},{"t":2010.12,"v":-55.5},{"t":2010.14,"v":-50},{"t":2010.16,"v":-52},{"t":2010.19,"v":-46},{"t":2010.22,"v":-42.5},{"t":2010.25,"v":-40},{"t":2010.28,"v":-37.5},{"t":2010.30,"v":-35},{"t":2010.33,"v":-33},{"t":2010.36,"v":-35.5},{"t":2010.39,"v":-32},{"t":2010.42,"v":-34.5},{"t":2010.45,"v":-37},{"t":2010.48,"v":-33.5},{"t":2010.51,"v":-36},{"t":2010.54,"v":-32.5},{"t":2010.57,"v":-35},{"t":2010.60,"v":-38},{"t":2010.62,"v":-41},{"t":2010.64,"v":-44.5},{"t":2010.66,"v":-43},{"t":2010.68,"v":-48},{"t":2010.70,"v":-51},{"t":2010.72,"v":-54},{"t":2010.74,"v":-52.5},{"t":2010.76,"v":-56},{"t":2010.78,"v":-58.5},
{"t":2010.07,"v":-55},{"t":2010.11,"v":-58},{"t":2010.15,"v":-48},{"t":2010.20,"v":-44},{"t":2010.26,"v":-37},{"t":2010.31,"v":-38.5},{"t":2010.38,"v":-36.5},{"t":2010.44,"v":-34},{"t":2010.50,"v":-38},{"t":2010.56,"v":-36.5},{"t":2010.61,"v":-43},{"t":2010.65,"v":-47},{"t":2010.69,"v":-52},{"t":2010.75,"v":-57},
{"t":2011.10,"v":-64.5},{"t":2011.11,"v":-61},{"t":2011.12,"v":-58},{"t":2011.13,"v":-62.5},{"t":2011.14,"v":-55},{"t":2011.15,"v":-57},{"t":2011.16,"v":-52},{"t":2011.18,"v":-49},{"t":2011.20,"v":-45.5},{"t":2011.22,"v":-42},{"t":2011.24,"v":-39},{"t":2011.26,"v":-36},{"t":2011.29,"v":-33.5},{"t":2011.32,"v":-37.5},{"t":2011.35,"v":-34},{"t":2011.38,"v":-39},{"t":2011.41,"v":-35.5},{"t":2011.44,"v":-33},{"t":2011.47,"v":-37},{"t":2011.50,"v":-34.5},{"t":2011.53,"v":-38.5},{"t":2011.56,"v":-35},{"t":2011.59,"v":-39.5},{"t":2011.62,"v":-42},{"t":2011.64,"v":-45},{"t":2011.66,"v":-48},{"t":2011.67,"v":-46},{"t":2011.69,"v":-51},{"t":2011.71,"v":-53.5},{"t":2011.73,"v":-52},{"t":2011.75,"v":-55.5},{"t":2011.77,"v":-57},{"t":2011.79,"v":-60},
{"t":2011.11,"v":-56},{"t":2011.13,"v":-59.5},{"t":2011.15,"v":-53.5},{"t":2011.17,"v":-47},{"t":2011.21,"v":-43.5},{"t":2011.25,"v":-37.5},{"t":2011.31,"v":-35.5},{"t":2011.37,"v":-36.5},{"t":2011.43,"v":-37.5},{"t":2011.49,"v":-36},{"t":2011.55,"v":-37},{"t":2011.61,"v":-44},{"t":2011.65,"v":-50},{"t":2011.70,"v":-55},{"t":2011.74,"v":-57.5},
{"t":2012.15,"v":-34},{"t":2012.70,"v":-37.3},{"t":2012.07,"v":-65},{"t":2012.08,"v":-62},{"t":2012.09,"v":-64},{"t":2012.10,"v":-59},{"t":2012.11,"v":-61},{"t":2012.12,"v":-56},{"t":2012.13,"v":-58},{"t":2012.14,"v":-53},{"t":2012.16,"v":-50},{"t":2012.18,"v":-46.5},{"t":2012.20,"v":-43},{"t":2012.22,"v":-40},{"t":2012.24,"v":-37},{"t":2012.27,"v":-34.5},{"t":2012.30,"v":-38},{"t":2012.33,"v":-35},{"t":2012.36,"v":-33.5},{"t":2012.39,"v":-37},{"t":2012.42,"v":-35},{"t":2012.45,"v":-38.5},{"t":2012.48,"v":-34},{"t":2012.51,"v":-36.5},{"t":2012.54,"v":-34.5},{"t":2012.57,"v":-37.5},{"t":2012.60,"v":-39},{"t":2012.63,"v":-42},{"t":2012.65,"v":-45},{"t":2012.67,"v":-48},{"t":2012.69,"v":-46.5},{"t":2012.71,"v":-51},{"t":2012.73,"v":-54},{"t":2012.75,"v":-52.5},{"t":2012.77,"v":-56},{"t":2012.80,"v":-58.5},{"t":2012.83,"v":-61},
{"t":2012.09,"v":-60.5},{"t":2012.11,"v":-57.5},{"t":2012.13,"v":-54.5},{"t":2012.15,"v":-51.5},{"t":2012.19,"v":-44.5},{"t":2012.23,"v":-39},{"t":2012.29,"v":-36},{"t":2012.35,"v":-37},{"t":2012.41,"v":-33.5},{"t":2012.47,"v":-36.5},{"t":2012.53,"v":-38.5},{"t":2012.59,"v":-36},{"t":2012.64,"v":-44.5},{"t":2012.68,"v":-50},{"t":2012.72,"v":-52.5},{"t":2012.79,"v":-60},
{"t":2013.09,"v":-64.5},{"t":2013.10,"v":-61.5},{"t":2013.11,"v":-63},{"t":2013.12,"v":-58.5},{"t":2013.13,"v":-60},{"t":2013.14,"v":-55.5},{"t":2013.15,"v":-57},{"t":2013.17,"v":-52},{"t":2013.19,"v":-49},{"t":2013.21,"v":-45.5},{"t":2013.24,"v":-42},{"t":2013.27,"v":-39},{"t":2013.29,"v":-36.5},{"t":2013.31,"v":-34},{"t":2013.34,"v":-36.5},{"t":2013.37,"v":-33},{"t":2013.40,"v":-35.5},{"t":2013.43,"v":-38},{"t":2013.46,"v":-34},{"t":2013.49,"v":-36},{"t":2013.52,"v":-33.5},{"t":2013.55,"v":-37},{"t":2013.58,"v":-40},{"t":2013.60,"v":-43},{"t":2013.62,"v":-46.5},{"t":2013.64,"v":-45},{"t":2013.66,"v":-50},{"t":2013.68,"v":-53},{"t":2013.70,"v":-55},{"t":2013.73,"v":-57},{"t":2013.76,"v":-59},{"t":2013.80,"v":-58},
{"t":2013.10,"v":-59},{"t":2013.12,"v":-62},{"t":2013.14,"v":-59},{"t":2013.16,"v":-54},{"t":2013.20,"v":-47},{"t":2013.25,"v":-40.5},{"t":2013.30,"v":-38.5},{"t":2013.36,"v":-35},{"t":2013.42,"v":-36.5},{"t":2013.48,"v":-38},{"t":2013.54,"v":-35},{"t":2013.59,"v":-41.5},{"t":2013.63,"v":-48},{"t":2013.67,"v":-52},{"t":2013.72,"v":-55},
{"t":2014.07,"v":-64},{"t":2014.08,"v":-61},{"t":2014.09,"v":-58},{"t":2014.10,"v":-60},{"t":2014.11,"v":-55},{"t":2014.12,"v":-57},{"t":2014.14,"v":-52},{"t":2014.16,"v":-48.5},{"t":2014.18,"v":-45},{"t":2014.20,"v":-42},{"t":2014.22,"v":-38.5},{"t":2014.22,"v":-29.5},{"t":2014.24,"v":-35},{"t":2014.26,"v":-37.5},{"t":2014.28,"v":-33},{"t":2014.30,"v":-29.3},{"t":2014.32,"v":-35.5},{"t":2014.34,"v":-31.5},{"t":2014.35,"v":-26.8},{"t":2014.36,"v":-38},{"t":2014.38,"v":-33.5},{"t":2014.40,"v":-36},{"t":2014.42,"v":-31},{"t":2014.44,"v":-34.5},{"t":2014.45,"v":-28.3},{"t":2014.46,"v":-37},{"t":2014.48,"v":-33},{"t":2014.50,"v":-36.5},{"t":2014.52,"v":-26.5},{"t":2014.54,"v":-34},{"t":2014.56,"v":-38},{"t":2014.58,"v":-35},{"t":2014.60,"v":-39},{"t":2014.62,"v":-41},{"t":2014.63,"v":-27.6},{"t":2014.64,"v":-29.8},{"t":2014.64,"v":-44},{"t":2014.66,"v":-42.5},{"t":2014.68,"v":-47},{"t":2014.70,"v":-26.5},{"t":2014.70,"v":-50},{"t":2014.72,"v":-40},{"t":2014.72,"v":-48.5},{"t":2014.74,"v":-53},{"t":2014.76,"v":-43},{"t":2014.76,"v":-55.5},{"t":2014.77,"v":-27},{"t":2014.78,"v":-54},{"t":2014.80,"v":-45},{"t":2014.80,"v":-57.5},{"t":2014.83,"v":-59.5},{"t":2014.86,"v":-58},
{"t":2014.08,"v":-63},{"t":2014.10,"v":-57},{"t":2014.13,"v":-53.5},{"t":2014.15,"v":-50},{"t":2014.19,"v":-43.5},{"t":2014.23,"v":-40},{"t":2014.29,"v":-36.5},{"t":2014.35,"v":-34},{"t":2014.41,"v":-38.5},{"t":2014.47,"v":-35},{"t":2014.53,"v":-37.5},{"t":2014.59,"v":-33},{"t":2014.66,"v":-38.5},{"t":2014.69,"v":-44},{"t":2014.74,"v":-41.5},{"t":2014.79,"v":-47},{"t":2014.84,"v":-52},{"t":2014.87,"v":-56}],
"p4s":[{"t":2007.00,"v":-60},{"t":2007.02,"v":-57},{"t":2007.05,"v":-55},{"t":2007.10,"v":-49},{"t":2007.14,"v":-48},{"t":2007.20,"v":-42},{"t":2007.27,"v":-39.5},{"t":2007.35,"v":-38},{"t":2007.42,"v":-37.5},{"t":2007.50,"v":-38.5},{"t":2007.56,"v":-42},{"t":2007.60,"v":-46},{"t":2007.64,"v":-50},
{"t":2008.02,"v":-57},{"t":2008.05,"v":-55},{"t":2008.06,"v":-51},{"t":2008.08,"v":-47},{"t":2008.10,"v":-49},{"t":2008.13,"v":-45},{"t":2008.18,"v":-43},{"t":2008.25,"v":-40},{"t":2008.34,"v":-37},{"t":2008.40,"v":-38},{"t":2008.48,"v":-40},{"t":2008.54,"v":-44},{"t":2008.58,"v":-48},{"t":2008.62,"v":-52.5},
{"t":2009.06,"v":-56},{"t":2009.08,"v":-54},{"t":2009.10,"v":-57},{"t":2009.14,"v":-47},{"t":2009.18,"v":-42},{"t":2009.24,"v":-39},{"t":2009.32,"v":-38},{"t":2009.40,"v":-38.5},{"t":2009.48,"v":-40},{"t":2009.55,"v":-44},{"t":2009.60,"v":-48},{"t":2009.64,"v":-52.5},
{"t":2010.07,"v":-59},{"t":2010.08,"v":-56},{"t":2010.10,"v":-52},{"t":2010.14,"v":-48},{"t":2010.19,"v":-44},{"t":2010.25,"v":-40.5},{"t":2010.34,"v":-39},{"t":2010.40,"v":-38.5},{"t":2010.48,"v":-41},{"t":2010.54,"v":-44},{"t":2010.58,"v":-46},
{"t":2011.10,"v":-64.5},{"t":2011.11,"v":-62},{"t":2011.12,"v":-60},{"t":2011.13,"v":-57},{"t":2011.15,"v":-58.5},{"t":2011.20,"v":-50},{"t":2011.25,"v":-44},{"t":2011.32,"v":-40},{"t":2011.40,"v":-38},{"t":2011.48,"v":-39.5},{"t":2011.55,"v":-43},{"t":2011.60,"v":-48},{"t":2011.64,"v":-52},
{"t":2012.10,"v":-62},{"t":2012.12,"v":-58.5},{"t":2012.14,"v":-56},{"t":2012.16,"v":-51},{"t":2012.20,"v":-46},{"t":2012.26,"v":-41},{"t":2012.34,"v":-38},{"t":2012.40,"v":-38.5},{"t":2012.48,"v":-40},{"t":2012.55,"v":-44},{"t":2012.60,"v":-49},
{"t":2013.15,"v":-58},{"t":2013.20,"v":-50},{"t":2013.26,"v":-44},{"t":2013.32,"v":-40},{"t":2013.40,"v":-38},{"t":2013.48,"v":-39},{"t":2013.55,"v":-43},{"t":2013.62,"v":-48},
{"t":2014.20,"v":-48},{"t":2014.28,"v":-43},{"t":2014.38,"v":-40},{"t":2014.46,"v":-39},{"t":2014.55,"v":-42},{"t":2014.65,"v":-47}]
},
"vconcat":[
{"hconcat":[
{"width":371,"height":241,"title":"SYOWA 101 at −69° N 39.58° E","layer":[
{"data":{"name":"p1e"},"mark":{"type":"point","shape":"diamond","filled":true,"size":20,"color":"#87CEEB","opacity":1,"clip":true},"encoding":{"x":{"field":"t","type":"quantitative","scale":{"domain":[2007,2015],"nice":false,"zero":false}},"y":{"field":"v","type":"quantitative","scale":{"domain":[-65,-25],"nice":false,"zero":false},"title":"Effective temperature [Celsius]"}}},
{"data":{"name":"p1g"},"mark":{"type":"square","size":42,"color":"#FF4500","opacity":1,"clip":true},"encoding":{"x":{"field":"t","type":"quantitative"},"y":{"field":"v","type":"quantitative"}}},
{"data":{"name":"p1s"},"mark":{"type":"circle","size":32,"color":"#2E8B57","opacity":1,"clip":true},"encoding":{"x":{"field":"t","type":"quantitative"},"y":{"field":"v","type":"quantitative"}}},
{"data":{"values":[{}]},"mark":{"type":"rect"},"encoding":{"x":{"datum":2007.06},"x2":{"datum":2011.8},"y":{"datum":-25},"y2":{"datum":-31.8}}},
{"data":{"values":[{}]},"mark":{"type":"rect"},"encoding":{"x":{"datum":2011.98},"x2":{"datum":2014.11},"y":{"datum":-25},"y2":{"datum":-32.8}}},
{"data":{"values":[{}]},"mark":{"type":"text","color":"#93D4EE","fontSize":13.5},"encoding":{"x":{"datum":2007.32},"y":{"datum":-25.9},"text":{"value":"Mean  =  −49.33+/−12.26°C"}}},
{"data":{"values":[{}]},"mark":{"type":"text","color":"#FF5F2E","fontSize":13.5},"encoding":{"x":{"datum":2007.32},"y":{"datum":-28.15},"text":{"value":"Mean  =  −45.10+/−14.01°C"}}},
{"data":{"values":[{}]},"mark":{"type":"text","color":"#4A9B6B","fontSize":13.5},"encoding":{"x":{"datum":2007.32},"y":{"datum":-30.35},"text":{"value":"Mean  =  −47.44+/−13.06°C"}}},
{"data":{"values":[{}]},"mark":{"type":"rule"},"encoding":{"x":{"datum":2012.24},"x2":{"datum":2012.73},"y":{"datum":-27.6}}},
{"data":{"values":[{}]},"mark":{"type":"rule"},"encoding":{"x":{"datum":2012.24},"x2":{"datum":2012.73},"y":{"datum":-29.35}}},
{"data":{"values":[{}]},"mark":{"type":"rule"},"encoding":{"x":{"datum":2012.24},"x2":{"datum":2012.73},"y":{"datum":-30.95}}},
{"data":{"values":[{}]},"mark":{"type":"point","shape":"diamond","filled":true,"size":20,"color":"#87CEEB","opacity":1},"encoding":{"x":{"datum":2012.48},"y":{"datum":-27.6}}},
{"data":{"values":[{}]},"mark":{"type":"square","size":30,"color":"#FF4500","opacity":1},"encoding":{"x":{"datum":2012.48},"y":{"datum":-29.35}}},
{"data":{"values":[{}]},"mark":{"type":"circle","size":28,"color":"#2E8B57","opacity":1},"encoding":{"x":{"datum":2012.48},"y":{"datum":-30.95}}},
{"data":{"values":[{}]},"mark":{"type":"text","color":"#8CD3F0","fontSize":10.5},"encoding":{"x":{"datum":2012.95},"y":{"datum":-27.6},"text":{"value":"ECMWF"}}},
{"data":{"values":[{}]},"mark":{"type":"text","color":"#FF6A3D","fontSize":10.5},"encoding":{"x":{"datum":2012.95},"y":{"datum":-29.35},"text":{"value":"GODFIT"}}},
{"data":{"values":[{}]},"mark":{"type":"text","color":"#4E9E6E","fontSize":10.5},"encoding":{"x":{"datum":2012.95},"y":{"datum":-30.95},"text":{"value":"SONDE"}}}
]},
{"width":366,"height":241,"title":"SAMOA 191 at −14.25° N −170.57° E","layer":[
{"data":{"name":"p2e"},"mark":{"type":"point","shape":"diamond","filled":true,"size":20,"color":"#87CEEB","opacity":1,"clip":true},"encoding":{"x":{"field":"t","type":"quantitative","scale":{"domain":[2007,2015],"nice":false,"zero":false}},"y":{"field":"v","type":"quantitative","scale":{"domain":[-65,-25],"nice":false,"zero":false},"title":"Effective temperature [Celsius]"}}},
{"data":{"name":"p2g"},"mark":{"type":"square","size":48,"color":"#FF4500","opacity":1,"clip":true},"encoding":{"x":{"field":"t","type":"quantitative"},"y":{"field":"v","type":"quantitative"}}},
{"data":{"name":"p2s"},"mark":{"type":"circle","size":32,"color":"#2E8B57","opacity":1,"clip":true},"encoding":{"x":{"field":"t","type":"quantitative"},"y":{"field":"v","type":"quantitative"}}},
{"data":{"values":[{}]},"mark":{"type":"rect"},"encoding":{"x":{"datum":2007.0},"x2":{"datum":2011.66},"y":{"datum":-25},"y2":{"datum":-31.6}}},
{"data":{"values":[{}]},"mark":{"type":"rect"},"encoding":{"x":{"datum":2011.97},"x2":{"datum":2014.11},"y":{"datum":-25},"y2":{"datum":-32.8}}},
{"data":{"values":[{}]},"mark":{"type":"text","color":"#93D4EE","fontSize":13.5},"encoding":{"x":{"datum":2007.22},"y":{"datum":-25.9},"text":{"value":"Mean  =  −46.39+/−1.17°C"}}},
{"data":{"values":[{}]},"mark":{"type":"text","color":"#FF5F2E","fontSize":13.5},"encoding":{"x":{"datum":2007.22},"y":{"datum":-28.15},"text":{"value":"Mean  =  −44.48+/−3.50°C"}}},
{"data":{"values":[{}]},"mark":{"type":"text","color":"#4A9B6B","fontSize":13.5},"encoding":{"x":{"datum":2007.22},"y":{"datum":-30.35},"text":{"value":"Mean  =  −48.54+/−2.73°C"}}},
{"data":{"values":[{}]},"mark":{"type":"rule"},"encoding":{"x":{"datum":2012.24},"x2":{"datum":2012.73},"y":{"datum":-27.6}}},
{"data":{"values":[{}]},"mark":{"type":"rule"},"encoding":{"x":{"datum":2012.24},"x2":{"datum":2012.73},"y":{"datum":-29.35}}},
{"data":{"values":[{}]},"mark":{"type":"rule"},"encoding":{"x":{"datum":2012.24},"x2":{"datum":2012.73},"y":{"datum":-30.95}}},
{"data":{"values":[{}]},"mark":{"type":"point","shape":"diamond","filled":true,"size":20,"color":"#87CEEB","opacity":1},"encoding":{"x":{"datum":2012.48},"y":{"datum":-27.6}}},
{"data":{"values":[{}]},"mark":{"type":"square","size":30,"color":"#FF4500","opacity":1},"encoding":{"x":{"datum":2012.48},"y":{"datum":-29.35}}},
{"data":{"values":[{}]},"mark":{"type":"circle","size":28,"color":"#2E8B57","opacity":1},"encoding":{"x":{"datum":2012.48},"y":{"datum":-30.95}}},
{"data":{"values":[{}]},"mark":{"type":"text","color":"#8CD3F0","fontSize":10.5},"encoding":{"x":{"datum":2012.95},"y":{"datum":-27.6},"text":{"value":"ECMWF"}}},
{"data":{"values":[{}]},"mark":{"type":"text","color":"#FF6A3D","fontSize":10.5},"encoding":{"x":{"datum":2012.95},"y":{"datum":-29.35},"text":{"value":"GODFIT"}}},
{"data":{"values":[{}]},"mark":{"type":"text","color":"#4E9E6E","fontSize":10.5},"encoding":{"x":{"datum":2012.95},"y":{"datum":-30.95},"text":{"value":"SONDE"}}}
]}
],"spacing":37},
{"hconcat":[
{"width":371,"height":241,"title":"HOHENPEISSENBERG 099 at 47.8° N 11.02° E","layer":[
{"data":{"name":"p3e"},"mark":{"type":"point","shape":"diamond","filled":true,"size":20,"color":"#87CEEB","opacity":1,"clip":true},"encoding":{"x":{"field":"t","type":"quantitative","scale":{"domain":[2007,2015],"nice":false,"zero":false}},"y":{"field":"v","type":"quantitative","scale":{"domain":[-65,-25],"nice":false,"zero":false},"title":"Effective temperature [Celsius]"}}},
{"data":{"name":"p3g"},"mark":{"type":"square","size":42,"color":"#FF4500","opacity":1,"clip":true},"encoding":{"x":{"field":"t","type":"quantitative"},"y":{"field":"v","type":"quantitative"}}},
{"data":{"name":"p3s"},"mark":{"type":"circle","size":32,"color":"#2E8B57","opacity":1,"clip":true},"encoding":{"x":{"field":"t","type":"quantitative"},"y":{"field":"v","type":"quantitative"}}},
{"data":{"values":[{}]},"mark":{"type":"rect"},"encoding":{"x":{"datum":2007.06},"x2":{"datum":2011.74},"y":{"datum":-25},"y2":{"datum":-31.8}}},
{"data":{"values":[{}]},"mark":{"type":"rect"},"encoding":{"x":{"datum":2011.98},"x2":{"datum":2014.11},"y":{"datum":-25},"y2":{"datum":-32.8}}},
{"data":{"values":[{}]},"mark":{"type":"text","color":"#93D4EE","fontSize":13.5},"encoding":{"x":{"datum":2007.35},"y":{"datum":-25.9},"text":{"value":"Mean  =  −49.66+/−5.78°C"}}},
{"data":{"values":[{}]},"mark":{"type":"text","color":"#FF5F2E","fontSize":13.5},"encoding":{"x":{"datum":2007.35},"y":{"datum":-28.15},"text":{"value":"Mean  =  −47.46+/−6.48°C"}}},
{"data":{"values":[{}]},"mark":{"type":"text","color":"#4A9B6B","fontSize":13.5},"encoding":{"x":{"datum":2007.35},"y":{"datum":-30.35},"text":{"value":"Mean  =  −51.74+/−5.32°C"}}},
{"data":{"values":[{}]},"mark":{"type":"rule"},"encoding":{"x":{"datum":2012.24},"x2":{"datum":2012.73},"y":{"datum":-27.6}}},
{"data":{"values":[{}]},"mark":{"type":"rule"},"encoding":{"x":{"datum":2012.24},"x2":{"datum":2012.73},"y":{"datum":-29.35}}},
{"data":{"values":[{}]},"mark":{"type":"rule"},"encoding":{"x":{"datum":2012.24},"x2":{"datum":2012.73},"y":{"datum":-30.95}}},
{"data":{"values":[{}]},"mark":{"type":"point","shape":"diamond","filled":true,"size":20,"color":"#87CEEB","opacity":1},"encoding":{"x":{"datum":2012.48},"y":{"datum":-27.6}}},
{"data":{"values":[{}]},"mark":{"type":"square","size":30,"color":"#FF4500","opacity":1},"encoding":{"x":{"datum":2012.48},"y":{"datum":-29.35}}},
{"data":{"values":[{}]},"mark":{"type":"circle","size":28,"color":"#2E8B57","opacity":1},"encoding":{"x":{"datum":2012.48},"y":{"datum":-30.95}}},
{"data":{"values":[{}]},"mark":{"type":"text","color":"#8CD3F0","fontSize":10.5},"encoding":{"x":{"datum":2012.95},"y":{"datum":-27.6},"text":{"value":"ECMWF"}}},
{"data":{"values":[{}]},"mark":{"type":"text","color":"#FF6A3D","fontSize":10.5},"encoding":{"x":{"datum":2012.95},"y":{"datum":-29.35},"text":{"value":"GODFIT"}}},
{"data":{"values":[{}]},"mark":{"type":"text","color":"#4E9E6E","fontSize":10.5},"encoding":{"x":{"datum":2012.95},"y":{"datum":-30.95},"text":{"value":"SONDE"}}}
]},
{"width":366,"height":241,"title":"NY ALESUND 089 at 78.93° N 11.88° E","layer":[
{"data":{"name":"p4e"},"mark":{"type":"point","shape":"diamond","filled":true,"size":20,"color":"#87CEEB","opacity":1,"clip":true},"encoding":{"x":{"field":"t","type":"quantitative","scale":{"domain":[2007,2015],"nice":false,"zero":false}},"y":{"field":"v","type":"quantitative","scale":{"domain":[-65,-25],"nice":false,"zero":false},"title":"Effective temperature [Celsius]"}}},
{"data":{"name":"p4g"},"mark":{"type":"square","size":42,"color":"#FF4500","opacity":1,"clip":true},"encoding":{"x":{"field":"t","type":"quantitative"},"y":{"field":"v","type":"quantitative"}}},
{"data":{"name":"p4s"},"mark":{"type":"circle","size":32,"color":"#2E8B57","opacity":1,"clip":true},"encoding":{"x":{"field":"t","type":"quantitative"},"y":{"field":"v","type":"quantitative"}}},
{"data":{"values":[{}]},"mark":{"type":"rect"},"encoding":{"x":{"datum":2007.0},"x2":{"datum":2011.66},"y":{"datum":-25},"y2":{"datum":-31.6}}},
{"data":{"values":[{}]},"mark":{"type":"rect"},"encoding":{"x":{"datum":2011.97},"x2":{"datum":2014.11},"y":{"datum":-25},"y2":{"datum":-32.8}}},
{"data":{"values":[{}]},"mark":{"type":"text","color":"#93D4EE","fontSize":13.5},"encoding":{"x":{"datum":2007.22},"y":{"datum":-25.9},"text":{"value":"Mean  =  −46.06+/−7.92°C"}}},
{"data":{"values":[{}]},"mark":{"type":"text","color":"#FF5F2E","fontSize":13.5},"encoding":{"x":{"datum":2007.22},"y":{"datum":-28.15},"text":{"value":"Mean  =  −43.67+/−9.84°C"}}},
{"data":{"values":[{}]},"mark":{"type":"text","color":"#4A9B6B","fontSize":13.5},"encoding":{"x":{"datum":2007.22},"y":{"datum":-30.35},"text":{"value":"Mean  =  −47.30+/−7.27°C"}}},
{"data":{"values":[{}]},"mark":{"type":"rule"},"encoding":{"x":{"datum":2012.24},"x2":{"datum":2012.73},"y":{"datum":-27.6}}},
{"data":{"values":[{}]},"mark":{"type":"rule"},"encoding":{"x":{"datum":2012.24},"x2":{"datum":2012.73},"y":{"datum":-29.35}}},
{"data":{"values":[{}]},"mark":{"type":"rule"},"encoding":{"x":{"datum":2012.24},"x2":{"datum":2012.73},"y":{"datum":-30.95}}},
{"data":{"values":[{}]},"mark":{"type":"point","shape":"diamond","filled":true,"size":20,"color":"#87CEEB","opacity":1},"encoding":{"x":{"datum":2012.48},"y":{"datum":-27.6}}},
{"data":{"values":[{}]},"mark":{"type":"square","size":30,"color":"#FF4500","opacity":1},"encoding":{"x":{"datum":2012.48},"y":{"datum":-29.35}}},
{"data":{"values":[{}]},"mark":{"type":"circle","size":28,"color":"#2E8B57","opacity":1},"encoding":{"x":{"datum":2012.48},"y":{"datum":-30.95}}},
{"data":{"values":[{}]},"mark":{"type":"text","color":"#8CD3F0","fontSize":10.5},"encoding":{"x":{"datum":2012.95},"y":{"datum":-27.6},"text":{"value":"ECMWF"}}},
{"data":{"values":[{}]},"mark":{"type":"text","color":"#FF6A3D","fontSize":10.5},"encoding":{"x":{"datum":2012.95},"y":{"datum":-29.35},"text":{"value":"GODFIT"}}},
{"data":{"values":[{}]},"mark":{"type":"text","color":"#4E9E6E","fontSize":10.5},"encoding":{"x":{"datum":2012.95},"y":{"datum":-30.95},"text":{"value":"SONDE"}}}
]}
],"spacing":37}
],"spacing":74}
